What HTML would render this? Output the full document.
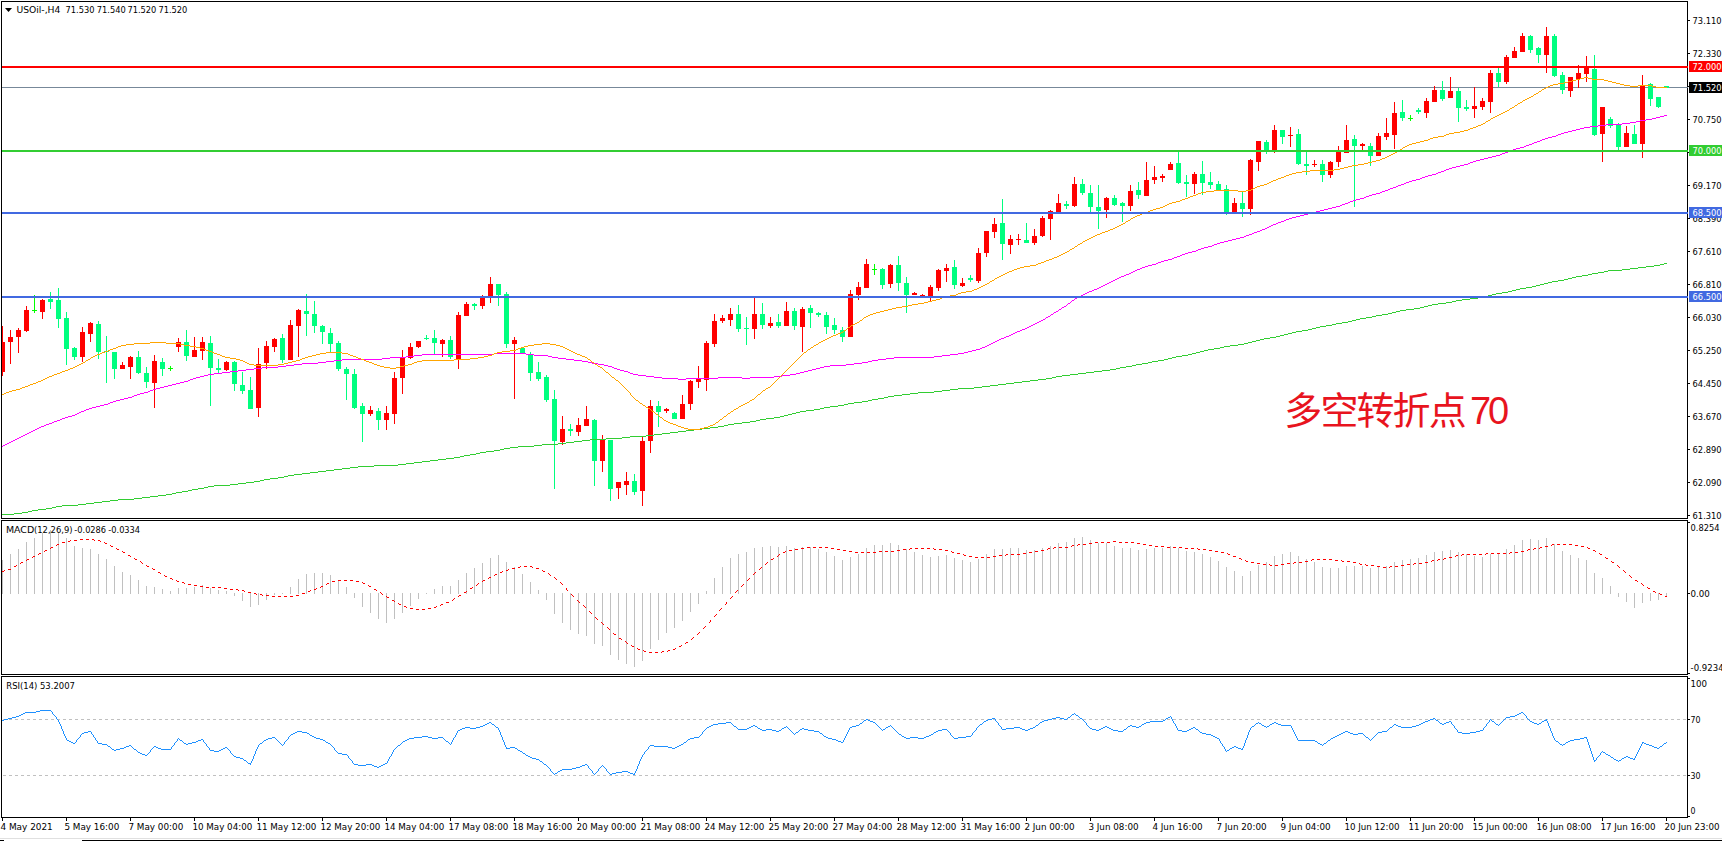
<!DOCTYPE html><html><head><meta charset="utf-8"><title>USOil H4</title>
<style>html,body{margin:0;padding:0;background:#fff;}body{width:1722px;height:841px;overflow:hidden;}svg{display:block;}</style></head><body>
<svg width="1722" height="841" viewBox="0 0 1722 841">
<rect x="0" y="0" width="1722" height="841" fill="#fff"/>
<defs><clipPath id="cm"><rect x="2" y="2" width="1685" height="516"/></clipPath><clipPath id="cd"><rect x="2" y="521" width="1685" height="153"/></clipPath><clipPath id="cr"><rect x="2" y="677" width="1685" height="140"/></clipPath></defs>
<g clip-path="url(#cm)" shape-rendering="crispEdges">
<rect x="2" y="87" width="1686" height="1" fill="#778899"/>
<rect x="2" y="326" width="1" height="50" fill="#FF0000"/>
<rect x="0" y="342" width="5" height="30" fill="#FF0000"/>
<rect x="10" y="330" width="1" height="34" fill="#FF0000"/>
<rect x="8" y="337" width="5" height="5" fill="#FF0000"/>
<rect x="18" y="328" width="1" height="25" fill="#FF0000"/>
<rect x="16" y="330" width="5" height="7" fill="#FF0000"/>
<rect x="26" y="306" width="1" height="26" fill="#FF0000"/>
<rect x="24" y="310" width="5" height="21" fill="#FF0000"/>
<rect x="34" y="295" width="1" height="18" fill="#00FF00"/>
<rect x="32" y="310" width="5" height="1" fill="#00FF00"/>
<rect x="42" y="299" width="1" height="20" fill="#FF0000"/>
<rect x="40" y="300" width="5" height="12" fill="#FF0000"/>
<rect x="50" y="292" width="1" height="17" fill="#00FF7F"/>
<rect x="48" y="299" width="5" height="3" fill="#00FF7F"/>
<rect x="58" y="288" width="1" height="40" fill="#00FF7F"/>
<rect x="56" y="300" width="5" height="19" fill="#00FF7F"/>
<rect x="66" y="312" width="1" height="53" fill="#00FF7F"/>
<rect x="64" y="318" width="5" height="31" fill="#00FF7F"/>
<rect x="74" y="347" width="1" height="13" fill="#00FF7F"/>
<rect x="72" y="348" width="5" height="9" fill="#00FF7F"/>
<rect x="82" y="327" width="1" height="35" fill="#FF0000"/>
<rect x="80" y="332" width="5" height="25" fill="#FF0000"/>
<rect x="90" y="322" width="1" height="20" fill="#FF0000"/>
<rect x="88" y="323" width="5" height="11" fill="#FF0000"/>
<rect x="98" y="321" width="1" height="38" fill="#00FF7F"/>
<rect x="96" y="324" width="5" height="28" fill="#00FF7F"/>
<rect x="106" y="336" width="1" height="47" fill="#00FF7F"/>
<rect x="104" y="351" width="5" height="1" fill="#00FF7F"/>
<rect x="114" y="352" width="1" height="27" fill="#00FF7F"/>
<rect x="112" y="352" width="5" height="17" fill="#00FF7F"/>
<rect x="122" y="362" width="1" height="7" fill="#FF0000"/>
<rect x="120" y="365" width="5" height="4" fill="#FF0000"/>
<rect x="130" y="356" width="1" height="23" fill="#FF0000"/>
<rect x="128" y="357" width="5" height="10" fill="#FF0000"/>
<rect x="138" y="351" width="1" height="23" fill="#00FF7F"/>
<rect x="136" y="357" width="5" height="16" fill="#00FF7F"/>
<rect x="146" y="367" width="1" height="21" fill="#00FF7F"/>
<rect x="144" y="373" width="5" height="9" fill="#00FF7F"/>
<rect x="154" y="355" width="1" height="53" fill="#FF0000"/>
<rect x="152" y="361" width="5" height="22" fill="#FF0000"/>
<rect x="162" y="358" width="1" height="18" fill="#00FF7F"/>
<rect x="160" y="362" width="5" height="7" fill="#00FF7F"/>
<rect x="170" y="366" width="1" height="5" fill="#00FF00"/>
<rect x="168" y="368" width="5" height="1" fill="#00FF00"/>
<rect x="178" y="338" width="1" height="14" fill="#FF0000"/>
<rect x="176" y="342" width="5" height="5" fill="#FF0000"/>
<rect x="186" y="330" width="1" height="31" fill="#00FF7F"/>
<rect x="184" y="342" width="5" height="14" fill="#00FF7F"/>
<rect x="194" y="337" width="1" height="20" fill="#FF0000"/>
<rect x="192" y="350" width="5" height="7" fill="#FF0000"/>
<rect x="202" y="337" width="1" height="23" fill="#FF0000"/>
<rect x="200" y="342" width="5" height="9" fill="#FF0000"/>
<rect x="210" y="336" width="1" height="70" fill="#00FF7F"/>
<rect x="208" y="343" width="5" height="25" fill="#00FF7F"/>
<rect x="218" y="359" width="1" height="14" fill="#00FF7F"/>
<rect x="216" y="368" width="5" height="2" fill="#00FF7F"/>
<rect x="226" y="361" width="1" height="10" fill="#FF0000"/>
<rect x="224" y="362" width="5" height="8" fill="#FF0000"/>
<rect x="234" y="361" width="1" height="30" fill="#00FF7F"/>
<rect x="232" y="362" width="5" height="22" fill="#00FF7F"/>
<rect x="242" y="372" width="1" height="22" fill="#00FF7F"/>
<rect x="240" y="385" width="5" height="6" fill="#00FF7F"/>
<rect x="250" y="377" width="1" height="32" fill="#00FF7F"/>
<rect x="248" y="390" width="5" height="19" fill="#00FF7F"/>
<rect x="258" y="348" width="1" height="69" fill="#FF0000"/>
<rect x="256" y="364" width="5" height="44" fill="#FF0000"/>
<rect x="266" y="341" width="1" height="28" fill="#FF0000"/>
<rect x="264" y="346" width="5" height="17" fill="#FF0000"/>
<rect x="274" y="338" width="1" height="14" fill="#FF0000"/>
<rect x="272" y="339" width="5" height="8" fill="#FF0000"/>
<rect x="282" y="334" width="1" height="29" fill="#00FF7F"/>
<rect x="280" y="338" width="5" height="22" fill="#00FF7F"/>
<rect x="290" y="320" width="1" height="40" fill="#FF0000"/>
<rect x="288" y="325" width="5" height="35" fill="#FF0000"/>
<rect x="298" y="309" width="1" height="48" fill="#FF0000"/>
<rect x="296" y="310" width="5" height="16" fill="#FF0000"/>
<rect x="306" y="294" width="1" height="42" fill="#00FF7F"/>
<rect x="304" y="311" width="5" height="3" fill="#00FF7F"/>
<rect x="314" y="301" width="1" height="32" fill="#00FF7F"/>
<rect x="312" y="314" width="5" height="12" fill="#00FF7F"/>
<rect x="322" y="325" width="1" height="19" fill="#00FF7F"/>
<rect x="320" y="326" width="5" height="6" fill="#00FF7F"/>
<rect x="330" y="328" width="1" height="24" fill="#00FF7F"/>
<rect x="328" y="333" width="5" height="11" fill="#00FF7F"/>
<rect x="338" y="341" width="1" height="30" fill="#00FF7F"/>
<rect x="336" y="343" width="5" height="26" fill="#00FF7F"/>
<rect x="346" y="367" width="1" height="33" fill="#00FF7F"/>
<rect x="344" y="369" width="5" height="5" fill="#00FF7F"/>
<rect x="354" y="369" width="1" height="40" fill="#00FF7F"/>
<rect x="352" y="374" width="5" height="34" fill="#00FF7F"/>
<rect x="362" y="403" width="1" height="39" fill="#00FF7F"/>
<rect x="360" y="406" width="5" height="8" fill="#00FF7F"/>
<rect x="370" y="406" width="1" height="10" fill="#FF0000"/>
<rect x="368" y="410" width="5" height="4" fill="#FF0000"/>
<rect x="378" y="408" width="1" height="22" fill="#00FF7F"/>
<rect x="376" y="411" width="5" height="9" fill="#00FF7F"/>
<rect x="386" y="406" width="1" height="24" fill="#FF0000"/>
<rect x="384" y="413" width="5" height="7" fill="#FF0000"/>
<rect x="394" y="372" width="1" height="52" fill="#FF0000"/>
<rect x="392" y="378" width="5" height="36" fill="#FF0000"/>
<rect x="402" y="350" width="1" height="44" fill="#FF0000"/>
<rect x="400" y="358" width="5" height="20" fill="#FF0000"/>
<rect x="410" y="343" width="1" height="16" fill="#FF0000"/>
<rect x="408" y="347" width="5" height="11" fill="#FF0000"/>
<rect x="418" y="341" width="1" height="7" fill="#FF0000"/>
<rect x="416" y="341" width="5" height="6" fill="#FF0000"/>
<rect x="426" y="335" width="1" height="5" fill="#00FF7F"/>
<rect x="424" y="338" width="5" height="1" fill="#00FF7F"/>
<rect x="434" y="330" width="1" height="24" fill="#00FF7F"/>
<rect x="432" y="338" width="5" height="5" fill="#00FF7F"/>
<rect x="442" y="339" width="1" height="18" fill="#FF0000"/>
<rect x="440" y="340" width="5" height="4" fill="#FF0000"/>
<rect x="450" y="336" width="1" height="23" fill="#00FF7F"/>
<rect x="448" y="340" width="5" height="17" fill="#00FF7F"/>
<rect x="458" y="312" width="1" height="57" fill="#FF0000"/>
<rect x="456" y="315" width="5" height="44" fill="#FF0000"/>
<rect x="466" y="302" width="1" height="14" fill="#FF0000"/>
<rect x="464" y="304" width="5" height="12" fill="#FF0000"/>
<rect x="474" y="303" width="1" height="7" fill="#00FF7F"/>
<rect x="472" y="304" width="5" height="2" fill="#00FF7F"/>
<rect x="482" y="295" width="1" height="14" fill="#FF0000"/>
<rect x="480" y="298" width="5" height="8" fill="#FF0000"/>
<rect x="490" y="277" width="1" height="26" fill="#FF0000"/>
<rect x="488" y="284" width="5" height="12" fill="#FF0000"/>
<rect x="498" y="284" width="1" height="22" fill="#00FF7F"/>
<rect x="496" y="284" width="5" height="11" fill="#00FF7F"/>
<rect x="506" y="292" width="1" height="56" fill="#00FF7F"/>
<rect x="504" y="294" width="5" height="50" fill="#00FF7F"/>
<rect x="514" y="337" width="1" height="62" fill="#FF0000"/>
<rect x="512" y="340" width="5" height="4" fill="#FF0000"/>
<rect x="522" y="348" width="1" height="6" fill="#00FF7F"/>
<rect x="520" y="348" width="5" height="6" fill="#00FF7F"/>
<rect x="530" y="352" width="1" height="29" fill="#00FF7F"/>
<rect x="528" y="354" width="5" height="19" fill="#00FF7F"/>
<rect x="538" y="362" width="1" height="19" fill="#00FF7F"/>
<rect x="536" y="372" width="5" height="7" fill="#00FF7F"/>
<rect x="546" y="375" width="1" height="27" fill="#00FF7F"/>
<rect x="544" y="377" width="5" height="23" fill="#00FF7F"/>
<rect x="554" y="390" width="1" height="99" fill="#00FF7F"/>
<rect x="552" y="399" width="5" height="42" fill="#00FF7F"/>
<rect x="562" y="416" width="1" height="29" fill="#FF0000"/>
<rect x="560" y="429" width="5" height="13" fill="#FF0000"/>
<rect x="570" y="424" width="1" height="12" fill="#00FF7F"/>
<rect x="568" y="429" width="5" height="2" fill="#00FF7F"/>
<rect x="578" y="418" width="1" height="18" fill="#FF0000"/>
<rect x="576" y="425" width="5" height="7" fill="#FF0000"/>
<rect x="586" y="406" width="1" height="20" fill="#FF0000"/>
<rect x="584" y="419" width="5" height="7" fill="#FF0000"/>
<rect x="594" y="419" width="1" height="67" fill="#00FF7F"/>
<rect x="592" y="420" width="5" height="41" fill="#00FF7F"/>
<rect x="602" y="435" width="1" height="37" fill="#FF0000"/>
<rect x="600" y="440" width="5" height="21" fill="#FF0000"/>
<rect x="610" y="440" width="1" height="61" fill="#00FF7F"/>
<rect x="608" y="440" width="5" height="49" fill="#00FF7F"/>
<rect x="618" y="482" width="1" height="17" fill="#FF0000"/>
<rect x="616" y="482" width="5" height="6" fill="#FF0000"/>
<rect x="626" y="472" width="1" height="23" fill="#FF0000"/>
<rect x="624" y="481" width="5" height="4" fill="#FF0000"/>
<rect x="634" y="474" width="1" height="21" fill="#00FF7F"/>
<rect x="632" y="481" width="5" height="11" fill="#00FF7F"/>
<rect x="642" y="437" width="1" height="69" fill="#FF0000"/>
<rect x="640" y="441" width="5" height="50" fill="#FF0000"/>
<rect x="650" y="400" width="1" height="53" fill="#FF0000"/>
<rect x="648" y="406" width="5" height="35" fill="#FF0000"/>
<rect x="658" y="401" width="1" height="26" fill="#00FF7F"/>
<rect x="656" y="406" width="5" height="6" fill="#00FF7F"/>
<rect x="666" y="408" width="1" height="5" fill="#FF0000"/>
<rect x="664" y="409" width="5" height="2" fill="#FF0000"/>
<rect x="674" y="412" width="1" height="7" fill="#00FF7F"/>
<rect x="672" y="413" width="5" height="6" fill="#00FF7F"/>
<rect x="682" y="395" width="1" height="24" fill="#FF0000"/>
<rect x="680" y="404" width="5" height="15" fill="#FF0000"/>
<rect x="690" y="380" width="1" height="30" fill="#FF0000"/>
<rect x="688" y="381" width="5" height="23" fill="#FF0000"/>
<rect x="698" y="366" width="1" height="22" fill="#FF0000"/>
<rect x="696" y="379" width="5" height="3" fill="#FF0000"/>
<rect x="706" y="341" width="1" height="50" fill="#FF0000"/>
<rect x="704" y="343" width="5" height="37" fill="#FF0000"/>
<rect x="714" y="314" width="1" height="33" fill="#FF0000"/>
<rect x="712" y="321" width="5" height="23" fill="#FF0000"/>
<rect x="722" y="315" width="1" height="8" fill="#FF0000"/>
<rect x="720" y="318" width="5" height="3" fill="#FF0000"/>
<rect x="730" y="308" width="1" height="18" fill="#FF0000"/>
<rect x="728" y="314" width="5" height="6" fill="#FF0000"/>
<rect x="738" y="305" width="1" height="27" fill="#00FF7F"/>
<rect x="736" y="314" width="5" height="15" fill="#00FF7F"/>
<rect x="746" y="317" width="1" height="28" fill="#00FF7F"/>
<rect x="744" y="328" width="5" height="1" fill="#00FF7F"/>
<rect x="754" y="298" width="1" height="41" fill="#FF0000"/>
<rect x="752" y="314" width="5" height="15" fill="#FF0000"/>
<rect x="762" y="303" width="1" height="26" fill="#00FF7F"/>
<rect x="760" y="314" width="5" height="11" fill="#00FF7F"/>
<rect x="770" y="317" width="1" height="11" fill="#FF0000"/>
<rect x="768" y="323" width="5" height="3" fill="#FF0000"/>
<rect x="778" y="314" width="1" height="14" fill="#00FF7F"/>
<rect x="776" y="322" width="5" height="4" fill="#00FF7F"/>
<rect x="786" y="302" width="1" height="24" fill="#FF0000"/>
<rect x="784" y="311" width="5" height="15" fill="#FF0000"/>
<rect x="794" y="308" width="1" height="22" fill="#00FF7F"/>
<rect x="792" y="311" width="5" height="15" fill="#00FF7F"/>
<rect x="802" y="307" width="1" height="45" fill="#FF0000"/>
<rect x="800" y="309" width="5" height="18" fill="#FF0000"/>
<rect x="810" y="305" width="1" height="23" fill="#00FF7F"/>
<rect x="808" y="308" width="5" height="5" fill="#00FF7F"/>
<rect x="818" y="312" width="1" height="5" fill="#00FF7F"/>
<rect x="816" y="313" width="5" height="2" fill="#00FF7F"/>
<rect x="826" y="312" width="1" height="22" fill="#00FF7F"/>
<rect x="824" y="315" width="5" height="12" fill="#00FF7F"/>
<rect x="834" y="318" width="1" height="16" fill="#00FF7F"/>
<rect x="832" y="325" width="5" height="5" fill="#00FF7F"/>
<rect x="842" y="327" width="1" height="15" fill="#00FF7F"/>
<rect x="840" y="330" width="5" height="7" fill="#00FF7F"/>
<rect x="850" y="290" width="1" height="47" fill="#FF0000"/>
<rect x="848" y="294" width="5" height="43" fill="#FF0000"/>
<rect x="858" y="282" width="1" height="18" fill="#FF0000"/>
<rect x="856" y="287" width="5" height="8" fill="#FF0000"/>
<rect x="866" y="259" width="1" height="29" fill="#FF0000"/>
<rect x="864" y="264" width="5" height="24" fill="#FF0000"/>
<rect x="874" y="264" width="1" height="11" fill="#00FF00"/>
<rect x="872" y="269" width="5" height="1" fill="#00FF00"/>
<rect x="882" y="268" width="1" height="21" fill="#00FF7F"/>
<rect x="880" y="269" width="5" height="16" fill="#00FF7F"/>
<rect x="890" y="264" width="1" height="24" fill="#FF0000"/>
<rect x="888" y="265" width="5" height="19" fill="#FF0000"/>
<rect x="898" y="256" width="1" height="35" fill="#00FF7F"/>
<rect x="896" y="265" width="5" height="18" fill="#00FF7F"/>
<rect x="906" y="277" width="1" height="36" fill="#00FF7F"/>
<rect x="904" y="283" width="5" height="12" fill="#00FF7F"/>
<rect x="914" y="292" width="1" height="3" fill="#FF0000"/>
<rect x="912" y="293" width="5" height="2" fill="#FF0000"/>
<rect x="922" y="294" width="1" height="2" fill="#FF0000"/>
<rect x="920" y="295" width="5" height="1" fill="#FF0000"/>
<rect x="930" y="285" width="1" height="17" fill="#FF0000"/>
<rect x="928" y="287" width="5" height="9" fill="#FF0000"/>
<rect x="938" y="269" width="1" height="22" fill="#FF0000"/>
<rect x="936" y="270" width="5" height="18" fill="#FF0000"/>
<rect x="946" y="264" width="1" height="18" fill="#FF0000"/>
<rect x="944" y="268" width="5" height="3" fill="#FF0000"/>
<rect x="954" y="260" width="1" height="29" fill="#00FF7F"/>
<rect x="952" y="267" width="5" height="18" fill="#00FF7F"/>
<rect x="962" y="278" width="1" height="9" fill="#FF0000"/>
<rect x="960" y="283" width="5" height="3" fill="#FF0000"/>
<rect x="970" y="275" width="1" height="7" fill="#00FF7F"/>
<rect x="968" y="278" width="5" height="2" fill="#00FF7F"/>
<rect x="978" y="248" width="1" height="35" fill="#FF0000"/>
<rect x="976" y="253" width="5" height="28" fill="#FF0000"/>
<rect x="986" y="231" width="1" height="26" fill="#FF0000"/>
<rect x="984" y="231" width="5" height="22" fill="#FF0000"/>
<rect x="994" y="218" width="1" height="20" fill="#FF0000"/>
<rect x="992" y="224" width="5" height="8" fill="#FF0000"/>
<rect x="1002" y="199" width="1" height="61" fill="#00FF7F"/>
<rect x="1000" y="223" width="5" height="21" fill="#00FF7F"/>
<rect x="1010" y="235" width="1" height="19" fill="#FF0000"/>
<rect x="1008" y="239" width="5" height="6" fill="#FF0000"/>
<rect x="1018" y="234" width="1" height="11" fill="#FF0000"/>
<rect x="1016" y="239" width="5" height="1" fill="#FF0000"/>
<rect x="1026" y="223" width="1" height="20" fill="#00FF7F"/>
<rect x="1024" y="240" width="5" height="3" fill="#00FF7F"/>
<rect x="1034" y="229" width="1" height="16" fill="#FF0000"/>
<rect x="1032" y="236" width="5" height="7" fill="#FF0000"/>
<rect x="1042" y="216" width="1" height="21" fill="#FF0000"/>
<rect x="1040" y="218" width="5" height="18" fill="#FF0000"/>
<rect x="1050" y="210" width="1" height="30" fill="#FF0000"/>
<rect x="1048" y="211" width="5" height="8" fill="#FF0000"/>
<rect x="1058" y="194" width="1" height="18" fill="#FF0000"/>
<rect x="1056" y="203" width="5" height="9" fill="#FF0000"/>
<rect x="1066" y="201" width="1" height="8" fill="#00FF7F"/>
<rect x="1064" y="204" width="5" height="2" fill="#00FF7F"/>
<rect x="1074" y="177" width="1" height="30" fill="#FF0000"/>
<rect x="1072" y="184" width="5" height="22" fill="#FF0000"/>
<rect x="1082" y="179" width="1" height="16" fill="#00FF7F"/>
<rect x="1080" y="184" width="5" height="9" fill="#00FF7F"/>
<rect x="1090" y="185" width="1" height="27" fill="#00FF7F"/>
<rect x="1088" y="193" width="5" height="14" fill="#00FF7F"/>
<rect x="1098" y="185" width="1" height="44" fill="#00FF7F"/>
<rect x="1096" y="207" width="5" height="4" fill="#00FF7F"/>
<rect x="1106" y="197" width="1" height="21" fill="#FF0000"/>
<rect x="1104" y="198" width="5" height="12" fill="#FF0000"/>
<rect x="1114" y="195" width="1" height="11" fill="#00FF7F"/>
<rect x="1112" y="198" width="5" height="7" fill="#00FF7F"/>
<rect x="1122" y="202" width="1" height="20" fill="#00FF7F"/>
<rect x="1120" y="203" width="5" height="3" fill="#00FF7F"/>
<rect x="1130" y="185" width="1" height="26" fill="#FF0000"/>
<rect x="1128" y="191" width="5" height="15" fill="#FF0000"/>
<rect x="1138" y="182" width="1" height="17" fill="#00FF7F"/>
<rect x="1136" y="190" width="5" height="5" fill="#00FF7F"/>
<rect x="1146" y="162" width="1" height="34" fill="#FF0000"/>
<rect x="1144" y="180" width="5" height="16" fill="#FF0000"/>
<rect x="1154" y="166" width="1" height="18" fill="#FF0000"/>
<rect x="1152" y="177" width="5" height="3" fill="#FF0000"/>
<rect x="1162" y="174" width="1" height="8" fill="#FF0000"/>
<rect x="1160" y="176" width="5" height="2" fill="#FF0000"/>
<rect x="1170" y="162" width="1" height="8" fill="#FF0000"/>
<rect x="1168" y="164" width="5" height="6" fill="#FF0000"/>
<rect x="1178" y="151" width="1" height="33" fill="#00FF7F"/>
<rect x="1176" y="163" width="5" height="20" fill="#00FF7F"/>
<rect x="1186" y="175" width="1" height="22" fill="#00FF7F"/>
<rect x="1184" y="182" width="5" height="2" fill="#00FF7F"/>
<rect x="1194" y="172" width="1" height="22" fill="#FF0000"/>
<rect x="1192" y="174" width="5" height="10" fill="#FF0000"/>
<rect x="1202" y="161" width="1" height="34" fill="#00FF7F"/>
<rect x="1200" y="174" width="5" height="9" fill="#00FF7F"/>
<rect x="1210" y="172" width="1" height="17" fill="#00FF7F"/>
<rect x="1208" y="182" width="5" height="3" fill="#00FF7F"/>
<rect x="1218" y="181" width="1" height="9" fill="#00FF7F"/>
<rect x="1216" y="184" width="5" height="6" fill="#00FF7F"/>
<rect x="1226" y="185" width="1" height="30" fill="#00FF7F"/>
<rect x="1224" y="189" width="5" height="23" fill="#00FF7F"/>
<rect x="1234" y="198" width="1" height="14" fill="#FF0000"/>
<rect x="1232" y="203" width="5" height="9" fill="#FF0000"/>
<rect x="1242" y="191" width="1" height="26" fill="#00FF7F"/>
<rect x="1240" y="203" width="5" height="6" fill="#00FF7F"/>
<rect x="1250" y="159" width="1" height="56" fill="#FF0000"/>
<rect x="1248" y="160" width="5" height="49" fill="#FF0000"/>
<rect x="1258" y="141" width="1" height="30" fill="#FF0000"/>
<rect x="1256" y="141" width="5" height="21" fill="#FF0000"/>
<rect x="1266" y="140" width="1" height="14" fill="#00FF7F"/>
<rect x="1264" y="142" width="5" height="8" fill="#00FF7F"/>
<rect x="1274" y="125" width="1" height="28" fill="#FF0000"/>
<rect x="1272" y="130" width="5" height="20" fill="#FF0000"/>
<rect x="1282" y="130" width="1" height="14" fill="#00FF7F"/>
<rect x="1280" y="130" width="5" height="7" fill="#00FF7F"/>
<rect x="1290" y="127" width="1" height="20" fill="#FF0000"/>
<rect x="1288" y="135" width="5" height="1" fill="#FF0000"/>
<rect x="1298" y="129" width="1" height="36" fill="#00FF7F"/>
<rect x="1296" y="134" width="5" height="30" fill="#00FF7F"/>
<rect x="1306" y="151" width="1" height="24" fill="#00FF7F"/>
<rect x="1304" y="164" width="5" height="2" fill="#00FF7F"/>
<rect x="1314" y="160" width="1" height="7" fill="#FF0000"/>
<rect x="1312" y="164" width="5" height="1" fill="#FF0000"/>
<rect x="1322" y="160" width="1" height="22" fill="#00FF7F"/>
<rect x="1320" y="164" width="5" height="11" fill="#00FF7F"/>
<rect x="1330" y="161" width="1" height="17" fill="#FF0000"/>
<rect x="1328" y="162" width="5" height="13" fill="#FF0000"/>
<rect x="1338" y="146" width="1" height="21" fill="#FF0000"/>
<rect x="1336" y="152" width="5" height="10" fill="#FF0000"/>
<rect x="1346" y="125" width="1" height="28" fill="#FF0000"/>
<rect x="1344" y="140" width="5" height="13" fill="#FF0000"/>
<rect x="1354" y="135" width="1" height="72" fill="#00FF7F"/>
<rect x="1352" y="139" width="5" height="7" fill="#00FF7F"/>
<rect x="1362" y="143" width="1" height="7" fill="#FF0000"/>
<rect x="1360" y="144" width="5" height="2" fill="#FF0000"/>
<rect x="1370" y="143" width="1" height="23" fill="#00FF7F"/>
<rect x="1368" y="146" width="5" height="10" fill="#00FF7F"/>
<rect x="1378" y="133" width="1" height="23" fill="#FF0000"/>
<rect x="1376" y="136" width="5" height="20" fill="#FF0000"/>
<rect x="1386" y="118" width="1" height="22" fill="#FF0000"/>
<rect x="1384" y="133" width="5" height="4" fill="#FF0000"/>
<rect x="1394" y="102" width="1" height="47" fill="#FF0000"/>
<rect x="1392" y="113" width="5" height="22" fill="#FF0000"/>
<rect x="1402" y="100" width="1" height="21" fill="#00FF7F"/>
<rect x="1400" y="112" width="5" height="6" fill="#00FF7F"/>
<rect x="1410" y="115" width="1" height="6" fill="#00FF00"/>
<rect x="1408" y="118" width="5" height="1" fill="#00FF00"/>
<rect x="1418" y="108" width="1" height="6" fill="#00FF7F"/>
<rect x="1416" y="110" width="5" height="2" fill="#00FF7F"/>
<rect x="1426" y="98" width="1" height="20" fill="#FF0000"/>
<rect x="1424" y="101" width="5" height="12" fill="#FF0000"/>
<rect x="1434" y="86" width="1" height="16" fill="#FF0000"/>
<rect x="1432" y="90" width="5" height="12" fill="#FF0000"/>
<rect x="1442" y="81" width="1" height="20" fill="#00FF7F"/>
<rect x="1440" y="90" width="5" height="9" fill="#00FF7F"/>
<rect x="1450" y="77" width="1" height="21" fill="#FF0000"/>
<rect x="1448" y="91" width="5" height="7" fill="#FF0000"/>
<rect x="1458" y="88" width="1" height="34" fill="#00FF7F"/>
<rect x="1456" y="91" width="5" height="17" fill="#00FF7F"/>
<rect x="1466" y="100" width="1" height="11" fill="#00FF7F"/>
<rect x="1464" y="107" width="5" height="2" fill="#00FF7F"/>
<rect x="1474" y="87" width="1" height="31" fill="#FF0000"/>
<rect x="1472" y="106" width="5" height="3" fill="#FF0000"/>
<rect x="1482" y="98" width="1" height="12" fill="#FF0000"/>
<rect x="1480" y="101" width="5" height="6" fill="#FF0000"/>
<rect x="1490" y="70" width="1" height="43" fill="#FF0000"/>
<rect x="1488" y="73" width="5" height="29" fill="#FF0000"/>
<rect x="1498" y="68" width="1" height="19" fill="#00FF7F"/>
<rect x="1496" y="73" width="5" height="9" fill="#00FF7F"/>
<rect x="1506" y="55" width="1" height="29" fill="#FF0000"/>
<rect x="1504" y="57" width="5" height="25" fill="#FF0000"/>
<rect x="1514" y="47" width="1" height="11" fill="#FF0000"/>
<rect x="1512" y="51" width="5" height="7" fill="#FF0000"/>
<rect x="1522" y="33" width="1" height="19" fill="#FF0000"/>
<rect x="1520" y="36" width="5" height="16" fill="#FF0000"/>
<rect x="1530" y="35" width="1" height="18" fill="#00FF7F"/>
<rect x="1528" y="36" width="5" height="14" fill="#00FF7F"/>
<rect x="1538" y="47" width="1" height="16" fill="#00FF7F"/>
<rect x="1536" y="48" width="5" height="7" fill="#00FF7F"/>
<rect x="1546" y="27" width="1" height="46" fill="#FF0000"/>
<rect x="1544" y="36" width="5" height="19" fill="#FF0000"/>
<rect x="1554" y="34" width="1" height="43" fill="#00FF7F"/>
<rect x="1552" y="36" width="5" height="40" fill="#00FF7F"/>
<rect x="1562" y="72" width="1" height="22" fill="#00FF7F"/>
<rect x="1560" y="75" width="5" height="15" fill="#00FF7F"/>
<rect x="1570" y="77" width="1" height="20" fill="#FF0000"/>
<rect x="1568" y="77" width="5" height="14" fill="#FF0000"/>
<rect x="1578" y="65" width="1" height="23" fill="#FF0000"/>
<rect x="1576" y="73" width="5" height="6" fill="#FF0000"/>
<rect x="1586" y="56" width="1" height="26" fill="#FF0000"/>
<rect x="1584" y="67" width="5" height="7" fill="#FF0000"/>
<rect x="1594" y="55" width="1" height="81" fill="#00FF7F"/>
<rect x="1592" y="69" width="5" height="66" fill="#00FF7F"/>
<rect x="1602" y="107" width="1" height="55" fill="#FF0000"/>
<rect x="1600" y="107" width="5" height="27" fill="#FF0000"/>
<rect x="1610" y="117" width="1" height="11" fill="#00FF7F"/>
<rect x="1608" y="119" width="5" height="7" fill="#00FF7F"/>
<rect x="1618" y="123" width="1" height="27" fill="#00FF7F"/>
<rect x="1616" y="124" width="5" height="23" fill="#00FF7F"/>
<rect x="1626" y="126" width="1" height="21" fill="#FF0000"/>
<rect x="1624" y="133" width="5" height="14" fill="#FF0000"/>
<rect x="1634" y="125" width="1" height="19" fill="#00FF7F"/>
<rect x="1632" y="134" width="5" height="10" fill="#00FF7F"/>
<rect x="1642" y="75" width="1" height="83" fill="#FF0000"/>
<rect x="1640" y="86" width="5" height="58" fill="#FF0000"/>
<rect x="1650" y="83" width="1" height="23" fill="#00FF7F"/>
<rect x="1648" y="84" width="5" height="15" fill="#00FF7F"/>
<rect x="1658" y="97" width="1" height="11" fill="#00FF7F"/>
<rect x="1656" y="97" width="5" height="10" fill="#00FF7F"/>
<rect x="1666" y="86" width="1" height="2" fill="#00FF7F"/>
<rect x="1664" y="86" width="5" height="2" fill="#00FF7F"/>
</g>
<g clip-path="url(#cm)" shape-rendering="crispEdges">
<path d="M1664 263h3v1h-3zM1660 264h4v1h-4zM1654 265h6v1h-6zM1646 266h8v1h-8zM1638 267h8v1h-8zM1630 268h8v1h-8zM1622 269h8v1h-8zM1608 270h14v1h-14zM1604 271h4v1h-4zM1598 272h6v1h-6zM1592 273h6v1h-6zM1588 274h4v1h-4zM1582 275h6v1h-6zM1576 276h6v1h-6zM1572 277h4v1h-4zM1568 278h4v1h-4zM1564 279h4v1h-4zM1558 280h6v1h-6zM1552 281h6v1h-6zM1548 282h4v1h-4zM1544 283h4v1h-4zM1540 284h4v1h-4zM1536 285h4v1h-4zM1532 286h4v1h-4zM1526 287h6v1h-6zM1520 288h6v1h-6zM1516 289h4v1h-4zM1512 290h4v1h-4zM1508 291h4v1h-4zM1502 292h6v1h-6zM1496 293h6v1h-6zM1492 294h4v1h-4zM1488 295h4v1h-4zM1484 296h4v1h-4zM1478 297h6v1h-6zM1470 298h8v1h-8zM1462 299h8v1h-8zM1456 300h6v1h-6zM1452 301h4v1h-4zM1446 302h6v1h-6zM1438 303h8v1h-8zM1432 304h6v1h-6zM1428 305h4v1h-4zM1424 306h4v1h-4zM1420 307h4v1h-4zM1414 308h6v1h-6zM1406 309h8v1h-8zM1400 310h6v1h-6zM1396 311h4v1h-4zM1392 312h4v1h-4zM1388 313h4v1h-4zM1382 314h6v1h-6zM1376 315h6v1h-6zM1372 316h4v1h-4zM1366 317h6v1h-6zM1360 318h6v1h-6zM1356 319h4v1h-4zM1352 320h4v1h-4zM1348 321h4v1h-4zM1342 322h6v1h-6zM1336 323h6v1h-6zM1332 324h4v1h-4zM1326 325h6v1h-6zM1320 326h6v1h-6zM1316 327h4v1h-4zM1312 328h4v1h-4zM1308 329h4v1h-4zM1302 330h6v1h-6zM1296 331h6v1h-6zM1292 332h4v1h-4zM1288 333h4v1h-4zM1284 334h4v1h-4zM1280 335h4v1h-4zM1276 336h4v1h-4zM1270 337h6v1h-6zM1264 338h6v1h-6zM1260 339h4v1h-4zM1256 340h4v1h-4zM1252 341h4v1h-4zM1248 342h4v1h-4zM1244 343h4v1h-4zM1238 344h6v1h-6zM1230 345h8v1h-8zM1224 346h6v1h-6zM1220 347h4v1h-4zM1214 348h6v1h-6zM1208 349h6v1h-6zM1204 350h4v1h-4zM1200 351h4v1h-4zM1196 352h4v1h-4zM1192 353h4v1h-4zM1188 354h4v1h-4zM1182 355h6v1h-6zM1176 356h6v1h-6zM1172 357h4v1h-4zM1168 358h4v1h-4zM1164 359h4v1h-4zM1158 360h6v1h-6zM1152 361h6v1h-6zM1148 362h4v1h-4zM1142 363h6v1h-6zM1136 364h6v1h-6zM1132 365h4v1h-4zM1126 366h6v1h-6zM1120 367h6v1h-6zM1116 368h4v1h-4zM1110 369h6v1h-6zM1102 370h8v1h-8zM1094 371h8v1h-8zM1086 372h8v1h-8zM1078 373h8v1h-8zM1070 374h8v1h-8zM1062 375h8v1h-8zM1056 376h6v1h-6zM1052 377h4v1h-4zM1046 378h6v1h-6zM1038 379h8v1h-8zM1030 380h8v1h-8zM1022 381h8v1h-8zM1014 382h8v1h-8zM1006 383h8v1h-8zM998 384h8v1h-8zM990 385h8v1h-8zM982 386h8v1h-8zM974 387h8v1h-8zM958 388h16v1h-16zM950 389h8v1h-8zM942 390h8v1h-8zM934 391h8v1h-8zM918 392h16v1h-16zM910 393h8v1h-8zM902 394h8v1h-8zM894 395h8v1h-8zM888 396h6v1h-6zM884 397h4v1h-4zM878 398h6v1h-6zM872 399h6v1h-6zM868 400h4v1h-4zM862 401h6v1h-6zM854 402h8v1h-8zM848 403h6v1h-6zM844 404h4v1h-4zM838 405h6v1h-6zM830 406h8v1h-8zM824 407h6v1h-6zM820 408h4v1h-4zM814 409h6v1h-6zM806 410h8v1h-8zM800 411h6v1h-6zM796 412h4v1h-4zM792 413h4v1h-4zM788 414h4v1h-4zM784 415h4v1h-4zM780 416h4v1h-4zM774 417h6v1h-6zM766 418h8v1h-8zM760 419h6v1h-6zM756 420h4v1h-4zM750 421h6v1h-6zM742 422h8v1h-8zM734 423h8v1h-8zM728 424h6v1h-6zM724 425h4v1h-4zM718 426h6v1h-6zM710 427h8v1h-8zM702 428h8v1h-8zM694 429h8v1h-8zM686 430h8v1h-8zM678 431h8v1h-8zM670 432h8v1h-8zM662 433h8v1h-8zM654 434h8v1h-8zM646 435h8v1h-8zM630 436h16v1h-16zM622 437h8v1h-8zM606 438h16v1h-16zM590 439h16v1h-16zM582 440h8v1h-8zM574 441h8v1h-8zM566 442h8v1h-8zM558 443h8v1h-8zM542 444h16v1h-16zM534 445h8v1h-8zM518 446h16v1h-16zM510 447h8v1h-8zM504 448h6v1h-6zM500 449h4v1h-4zM494 450h6v1h-6zM486 451h8v1h-8zM480 452h6v1h-6zM476 453h4v1h-4zM470 454h6v1h-6zM464 455h6v1h-6zM460 456h4v1h-4zM454 457h6v1h-6zM446 458h8v1h-8zM438 459h8v1h-8zM430 460h8v1h-8zM422 461h8v1h-8zM414 462h8v1h-8zM406 463h8v1h-8zM398 464h8v1h-8zM374 465h24v1h-24zM358 466h16v1h-16zM350 467h8v1h-8zM342 468h8v1h-8zM334 469h8v1h-8zM326 470h8v1h-8zM318 471h8v1h-8zM310 472h8v1h-8zM302 473h8v1h-8zM294 474h8v1h-8zM288 475h6v1h-6zM284 476h4v1h-4zM278 477h6v1h-6zM270 478h8v1h-8zM264 479h6v1h-6zM260 480h4v1h-4zM254 481h6v1h-6zM246 482h8v1h-8zM238 483h8v1h-8zM230 484h8v1h-8zM214 485h16v1h-16zM208 486h6v1h-6zM204 487h4v1h-4zM198 488h6v1h-6zM192 489h6v1h-6zM188 490h4v1h-4zM182 491h6v1h-6zM176 492h6v1h-6zM172 493h4v1h-4zM166 494h6v1h-6zM158 495h8v1h-8zM150 496h8v1h-8zM142 497h8v1h-8zM134 498h8v1h-8zM118 499h16v1h-16zM110 500h8v1h-8zM102 501h8v1h-8zM94 502h8v1h-8zM86 503h8v1h-8zM78 504h8v1h-8zM62 505h16v1h-16zM56 506h6v1h-6zM52 507h4v1h-4zM46 508h6v1h-6zM38 509h8v1h-8zM32 510h6v1h-6zM28 511h4v1h-4zM22 512h6v1h-6zM14 513h8v1h-8zM2 514h12v1h-12z" fill="#32CD32"/>
<path d="M1664 115h3v1h-3zM1660 116h4v1h-4zM1656 117h4v1h-4zM1652 118h4v1h-4zM1646 119h6v1h-6zM1640 120h6v1h-6zM1636 121h4v1h-4zM1630 122h6v1h-6zM1622 123h8v1h-8zM1606 124h16v1h-16zM1598 125h8v1h-8zM1590 126h8v1h-8zM1584 127h6v1h-6zM1580 128h4v1h-4zM1576 129h4v1h-4zM1572 130h4v1h-4zM1568 131h4v1h-4zM1564 132h4v1h-4zM1561 133h3v1h-3zM1558 134h3v1h-3zM1556 135h2v1h-2zM1552 136h4v1h-4zM1548 137h4v1h-4zM1545 138h3v1h-3zM1542 139h3v1h-3zM1540 140h2v1h-2zM1537 141h3v1h-3zM1534 142h3v1h-3zM1532 143h2v1h-2zM1529 144h3v1h-3zM1526 145h3v1h-3zM1524 146h2v1h-2zM1520 147h4v1h-4zM1516 148h4v1h-4zM1513 149h3v1h-3zM1510 150h3v1h-3zM1508 151h2v1h-2zM1505 152h3v1h-3zM1502 153h3v1h-3zM1500 154h2v1h-2zM1496 155h4v1h-4zM1492 156h4v1h-4zM1488 157h4v1h-4zM1484 158h4v1h-4zM1480 159h4v1h-4zM1476 160h4v1h-4zM1473 161h3v1h-3zM1470 162h3v1h-3zM1468 163h2v1h-2zM1464 164h4v1h-4zM1460 165h4v1h-4zM1456 166h4v1h-4zM1452 167h4v1h-4zM1449 168h3v1h-3zM1446 169h3v1h-3zM1444 170h2v1h-2zM1441 171h3v1h-3zM1438 172h3v1h-3zM1436 173h2v1h-2zM1432 174h4v1h-4zM1428 175h4v1h-4zM1425 176h3v1h-3zM1422 177h3v1h-3zM1420 178h2v1h-2zM1416 179h4v1h-4zM1412 180h4v1h-4zM1409 181h3v1h-3zM1406 182h3v1h-3zM1404 183h2v1h-2zM1401 184h3v1h-3zM1398 185h3v1h-3zM1396 186h2v1h-2zM1393 187h3v1h-3zM1390 188h3v1h-3zM1388 189h2v1h-2zM1385 190h3v1h-3zM1382 191h3v1h-3zM1380 192h2v1h-2zM1376 193h4v1h-4zM1372 194h4v1h-4zM1369 195h3v1h-3zM1366 196h3v1h-3zM1364 197h2v1h-2zM1360 198h4v1h-4zM1356 199h4v1h-4zM1353 200h3v1h-3zM1350 201h3v1h-3zM1348 202h2v1h-2zM1345 203h3v1h-3zM1342 204h3v1h-3zM1340 205h2v1h-2zM1336 206h4v1h-4zM1332 207h4v1h-4zM1328 208h4v1h-4zM1324 209h4v1h-4zM1320 210h4v1h-4zM1316 211h4v1h-4zM1312 212h4v1h-4zM1308 213h4v1h-4zM1304 214h4v1h-4zM1300 215h4v1h-4zM1296 216h4v1h-4zM1292 217h4v1h-4zM1289 218h3v1h-3zM1286 219h3v1h-3zM1284 220h2v1h-2zM1281 221h3v1h-3zM1278 222h3v1h-3zM1276 223h2v1h-2zM1273 224h3v1h-3zM1271 225h2v1h-2zM1269 226h2v1h-2zM1267 227h2v1h-2zM1265 228h2v1h-2zM1262 229h3v1h-3zM1260 230h2v1h-2zM1257 231h3v1h-3zM1254 232h3v1h-3zM1252 233h2v1h-2zM1249 234h3v1h-3zM1246 235h3v1h-3zM1244 236h2v1h-2zM1240 237h4v1h-4zM1236 238h4v1h-4zM1232 239h4v1h-4zM1228 240h4v1h-4zM1224 241h4v1h-4zM1220 242h4v1h-4zM1217 243h3v1h-3zM1214 244h3v1h-3zM1212 245h2v1h-2zM1208 246h4v1h-4zM1204 247h4v1h-4zM1201 248h3v1h-3zM1198 249h3v1h-3zM1196 250h2v1h-2zM1192 251h4v1h-4zM1188 252h4v1h-4zM1185 253h3v1h-3zM1182 254h3v1h-3zM1180 255h2v1h-2zM1177 256h3v1h-3zM1174 257h3v1h-3zM1172 258h2v1h-2zM1168 259h4v1h-4zM1164 260h4v1h-4zM1161 261h3v1h-3zM1158 262h3v1h-3zM1156 263h2v1h-2zM1152 264h4v1h-4zM1148 265h4v1h-4zM1145 266h3v1h-3zM1142 267h3v1h-3zM1140 268h2v1h-2zM1137 269h3v1h-3zM1135 270h2v1h-2zM1133 271h2v1h-2zM1131 272h2v1h-2zM1129 273h2v1h-2zM1126 274h3v1h-3zM1124 275h2v1h-2zM1121 276h3v1h-3zM1119 277h2v1h-2zM1117 278h2v1h-2zM1115 279h2v1h-2zM1113 280h2v1h-2zM1111 281h2v1h-2zM1109 282h2v1h-2zM1107 283h2v1h-2zM1105 284h2v1h-2zM1103 285h2v1h-2zM1101 286h2v1h-2zM1099 287h2v1h-2zM1097 288h2v1h-2zM1094 289h3v1h-3zM1092 290h2v1h-2zM1089 291h3v1h-3zM1087 292h2v1h-2zM1085 293h2v1h-2zM1083 294h2v1h-2zM1081 295h2v1h-2zM1079 296h2v1h-2zM1077 297h2v1h-2zM1075 298h2v1h-2zM1074 299h1v1h-1zM1072 300h2v1h-2zM1071 301h1v1h-1zM1070 302h1v1h-1zM1068 303h2v1h-2zM1067 304h1v1h-1zM1066 305h1v1h-1zM1064 306h2v1h-2zM1062 307h2v1h-2zM1061 308h1v1h-1zM1059 309h2v1h-2zM1058 310h1v1h-1zM1056 311h2v1h-2zM1054 312h2v1h-2zM1053 313h1v1h-1zM1051 314h2v1h-2zM1050 315h1v1h-1zM1048 316h2v1h-2zM1046 317h2v1h-2zM1045 318h1v1h-1zM1043 319h2v1h-2zM1041 320h2v1h-2zM1039 321h2v1h-2zM1037 322h2v1h-2zM1035 323h2v1h-2zM1033 324h2v1h-2zM1031 325h2v1h-2zM1029 326h2v1h-2zM1027 327h2v1h-2zM1025 328h2v1h-2zM1022 329h3v1h-3zM1020 330h2v1h-2zM1017 331h3v1h-3zM1015 332h2v1h-2zM1013 333h2v1h-2zM1011 334h2v1h-2zM1009 335h2v1h-2zM1006 336h3v1h-3zM1004 337h2v1h-2zM1001 338h3v1h-3zM999 339h2v1h-2zM997 340h2v1h-2zM995 341h2v1h-2zM993 342h2v1h-2zM991 343h2v1h-2zM989 344h2v1h-2zM987 345h2v1h-2zM985 346h2v1h-2zM982 347h3v1h-3zM980 348h2v1h-2zM976 349h4v1h-4zM972 350h4v1h-4zM968 351h4v1h-4zM964 352h4v1h-4zM494 353h32v1h-32zM958 353h6v1h-6zM422 354h72v1h-72zM526 354h8v1h-8zM950 354h8v1h-8zM414 355h8v1h-8zM534 355h14v1h-14zM942 355h8v1h-8zM406 356h8v1h-8zM548 356h4v1h-4zM934 356h8v1h-8zM390 357h16v1h-16zM552 357h6v1h-6zM894 357h40v1h-40zM382 358h8v1h-8zM558 358h8v1h-8zM886 358h8v1h-8zM342 359h40v1h-40zM566 359h8v1h-8zM878 359h8v1h-8zM334 360h8v1h-8zM574 360h8v1h-8zM872 360h6v1h-6zM326 361h8v1h-8zM582 361h6v1h-6zM868 361h4v1h-4zM318 362h8v1h-8zM588 362h4v1h-4zM862 362h6v1h-6zM302 363h16v1h-16zM592 363h6v1h-6zM854 363h8v1h-8zM294 364h8v1h-8zM598 364h6v1h-6zM846 364h8v1h-8zM286 365h8v1h-8zM604 365h4v1h-4zM830 365h16v1h-16zM278 366h8v1h-8zM608 366h4v1h-4zM824 366h6v1h-6zM262 367h16v1h-16zM612 367h2v1h-2zM820 367h4v1h-4zM254 368h8v1h-8zM614 368h3v1h-3zM816 368h4v1h-4zM246 369h8v1h-8zM617 369h3v1h-3zM812 369h4v1h-4zM238 370h8v1h-8zM620 370h4v1h-4zM808 370h4v1h-4zM230 371h8v1h-8zM624 371h4v1h-4zM804 371h4v1h-4zM222 372h8v1h-8zM628 372h2v1h-2zM800 372h4v1h-4zM214 373h8v1h-8zM630 373h3v1h-3zM796 373h4v1h-4zM208 374h6v1h-6zM633 374h5v1h-5zM790 374h6v1h-6zM204 375h4v1h-4zM638 375h8v1h-8zM782 375h8v1h-8zM200 376h4v1h-4zM646 376h8v1h-8zM774 376h8v1h-8zM196 377h4v1h-4zM654 377h8v1h-8zM718 377h24v1h-24zM750 377h24v1h-24zM193 378h3v1h-3zM662 378h16v1h-16zM686 378h32v1h-32zM742 378h8v1h-8zM190 379h3v1h-3zM678 379h8v1h-8zM188 380h2v1h-2zM184 381h4v1h-4zM180 382h4v1h-4zM176 383h4v1h-4zM172 384h4v1h-4zM168 385h4v1h-4zM164 386h4v1h-4zM160 387h4v1h-4zM156 388h4v1h-4zM153 389h3v1h-3zM150 390h3v1h-3zM148 391h2v1h-2zM144 392h4v1h-4zM140 393h4v1h-4zM137 394h3v1h-3zM134 395h3v1h-3zM132 396h2v1h-2zM128 397h4v1h-4zM124 398h4v1h-4zM120 399h4v1h-4zM116 400h4v1h-4zM113 401h3v1h-3zM110 402h3v1h-3zM108 403h2v1h-2zM104 404h4v1h-4zM100 405h4v1h-4zM96 406h4v1h-4zM92 407h4v1h-4zM89 408h3v1h-3zM86 409h3v1h-3zM84 410h2v1h-2zM81 411h3v1h-3zM79 412h2v1h-2zM77 413h2v1h-2zM75 414h2v1h-2zM72 415h3v1h-3zM68 416h4v1h-4zM65 417h3v1h-3zM62 418h3v1h-3zM60 419h2v1h-2zM57 420h3v1h-3zM54 421h3v1h-3zM52 422h2v1h-2zM49 423h3v1h-3zM46 424h3v1h-3zM44 425h2v1h-2zM41 426h3v1h-3zM39 427h2v1h-2zM37 428h2v1h-2zM35 429h2v1h-2zM33 430h2v1h-2zM31 431h2v1h-2zM29 432h2v1h-2zM27 433h2v1h-2zM25 434h2v1h-2zM23 435h2v1h-2zM21 436h2v1h-2zM19 437h2v1h-2zM17 438h2v1h-2zM15 439h2v1h-2zM13 440h2v1h-2zM11 441h2v1h-2zM9 442h2v1h-2zM7 443h2v1h-2zM5 444h2v1h-2zM3 445h2v1h-2zM2 446h1v1h-1z" fill="#FF00FF"/>
<path d="M1584 77h4v1h-4zM1580 78h4v1h-4zM1588 78h4v1h-4zM1576 79h4v1h-4zM1592 79h12v1h-12zM1572 80h4v1h-4zM1604 80h4v1h-4zM1568 81h4v1h-4zM1608 81h4v1h-4zM1564 82h4v1h-4zM1612 82h4v1h-4zM1558 83h6v1h-6zM1616 83h4v1h-4zM1553 84h5v1h-5zM1620 84h4v1h-4zM1550 85h3v1h-3zM1624 85h6v1h-6zM1638 85h14v1h-14zM1548 86h2v1h-2zM1630 86h8v1h-8zM1652 86h4v1h-4zM1546 87h2v1h-2zM1656 87h11v1h-11zM1544 88h2v1h-2zM1542 89h2v1h-2zM1541 90h1v1h-1zM1539 91h2v1h-2zM1538 92h1v1h-1zM1536 93h2v1h-2zM1534 94h2v1h-2zM1533 95h1v1h-1zM1531 96h2v1h-2zM1529 97h2v1h-2zM1527 98h2v1h-2zM1525 99h2v1h-2zM1523 100h2v1h-2zM1522 101h1v1h-1zM1520 102h2v1h-2zM1518 103h2v1h-2zM1517 104h1v1h-1zM1515 105h2v1h-2zM1514 106h1v1h-1zM1512 107h2v1h-2zM1510 108h2v1h-2zM1509 109h1v1h-1zM1507 110h2v1h-2zM1505 111h2v1h-2zM1503 112h2v1h-2zM1501 113h2v1h-2zM1499 114h2v1h-2zM1497 115h2v1h-2zM1495 116h2v1h-2zM1493 117h2v1h-2zM1491 118h2v1h-2zM1490 119h1v1h-1zM1488 120h2v1h-2zM1486 121h2v1h-2zM1485 122h1v1h-1zM1483 123h2v1h-2zM1481 124h2v1h-2zM1478 125h3v1h-3zM1476 126h2v1h-2zM1473 127h3v1h-3zM1470 128h3v1h-3zM1468 129h2v1h-2zM1464 130h4v1h-4zM1460 131h4v1h-4zM1454 132h6v1h-6zM1449 133h5v1h-5zM1446 134h3v1h-3zM1444 135h2v1h-2zM1438 136h6v1h-6zM1433 137h5v1h-5zM1430 138h3v1h-3zM1428 139h2v1h-2zM1424 140h4v1h-4zM1420 141h4v1h-4zM1416 142h4v1h-4zM1412 143h4v1h-4zM1409 144h3v1h-3zM1407 145h2v1h-2zM1405 146h2v1h-2zM1403 147h2v1h-2zM1402 148h1v1h-1zM1400 149h2v1h-2zM1398 150h2v1h-2zM1397 151h1v1h-1zM1395 152h2v1h-2zM1393 153h2v1h-2zM1391 154h2v1h-2zM1389 155h2v1h-2zM1387 156h2v1h-2zM1385 157h2v1h-2zM1382 158h3v1h-3zM1380 159h2v1h-2zM1376 160h4v1h-4zM1372 161h4v1h-4zM1368 162h4v1h-4zM1364 163h4v1h-4zM1358 164h6v1h-6zM1352 165h6v1h-6zM1348 166h4v1h-4zM1344 167h4v1h-4zM1340 168h4v1h-4zM1334 169h6v1h-6zM1310 170h24v1h-24zM1302 171h8v1h-8zM1296 172h6v1h-6zM1292 173h4v1h-4zM1289 174h3v1h-3zM1286 175h3v1h-3zM1284 176h2v1h-2zM1281 177h3v1h-3zM1278 178h3v1h-3zM1276 179h2v1h-2zM1273 180h3v1h-3zM1271 181h2v1h-2zM1269 182h2v1h-2zM1267 183h2v1h-2zM1264 184h3v1h-3zM1260 185h4v1h-4zM1257 186h3v1h-3zM1255 187h2v1h-2zM1253 188h2v1h-2zM1251 189h2v1h-2zM1214 190h24v1h-24zM1246 190h5v1h-5zM1206 191h8v1h-8zM1238 191h8v1h-8zM1201 192h5v1h-5zM1198 193h3v1h-3zM1196 194h2v1h-2zM1193 195h3v1h-3zM1190 196h3v1h-3zM1188 197h2v1h-2zM1185 198h3v1h-3zM1182 199h3v1h-3zM1180 200h2v1h-2zM1176 201h4v1h-4zM1172 202h4v1h-4zM1169 203h3v1h-3zM1167 204h2v1h-2zM1165 205h2v1h-2zM1163 206h2v1h-2zM1160 207h3v1h-3zM1156 208h4v1h-4zM1153 209h3v1h-3zM1150 210h3v1h-3zM1148 211h2v1h-2zM1145 212h3v1h-3zM1142 213h3v1h-3zM1140 214h2v1h-2zM1137 215h3v1h-3zM1135 216h2v1h-2zM1133 217h2v1h-2zM1131 218h2v1h-2zM1130 219h1v1h-1zM1128 220h2v1h-2zM1126 221h2v1h-2zM1125 222h1v1h-1zM1123 223h2v1h-2zM1121 224h2v1h-2zM1119 225h2v1h-2zM1117 226h2v1h-2zM1115 227h2v1h-2zM1113 228h2v1h-2zM1110 229h3v1h-3zM1108 230h2v1h-2zM1105 231h3v1h-3zM1102 232h3v1h-3zM1100 233h2v1h-2zM1097 234h3v1h-3zM1095 235h2v1h-2zM1093 236h2v1h-2zM1091 237h2v1h-2zM1089 238h2v1h-2zM1087 239h2v1h-2zM1085 240h2v1h-2zM1083 241h2v1h-2zM1082 242h1v1h-1zM1080 243h2v1h-2zM1078 244h2v1h-2zM1077 245h1v1h-1zM1075 246h2v1h-2zM1074 247h1v1h-1zM1072 248h2v1h-2zM1070 249h2v1h-2zM1069 250h1v1h-1zM1067 251h2v1h-2zM1065 252h2v1h-2zM1063 253h2v1h-2zM1061 254h2v1h-2zM1059 255h2v1h-2zM1057 256h2v1h-2zM1054 257h3v1h-3zM1052 258h2v1h-2zM1049 259h3v1h-3zM1046 260h3v1h-3zM1044 261h2v1h-2zM1041 262h3v1h-3zM1038 263h3v1h-3zM1036 264h2v1h-2zM1030 265h6v1h-6zM1024 266h6v1h-6zM1020 267h4v1h-4zM1017 268h3v1h-3zM1014 269h3v1h-3zM1012 270h2v1h-2zM1009 271h3v1h-3zM1007 272h2v1h-2zM1005 273h2v1h-2zM1003 274h2v1h-2zM1001 275h2v1h-2zM999 276h2v1h-2zM997 277h2v1h-2zM995 278h2v1h-2zM994 279h1v1h-1zM992 280h2v1h-2zM990 281h2v1h-2zM989 282h1v1h-1zM987 283h2v1h-2zM985 284h2v1h-2zM983 285h2v1h-2zM981 286h2v1h-2zM979 287h2v1h-2zM977 288h2v1h-2zM974 289h3v1h-3zM972 290h2v1h-2zM966 291h6v1h-6zM961 292h5v1h-5zM958 293h3v1h-3zM956 294h2v1h-2zM950 295h6v1h-6zM945 296h5v1h-5zM942 297h3v1h-3zM940 298h2v1h-2zM936 299h4v1h-4zM932 300h4v1h-4zM928 301h4v1h-4zM924 302h4v1h-4zM918 303h6v1h-6zM912 304h6v1h-6zM908 305h4v1h-4zM902 306h6v1h-6zM896 307h6v1h-6zM892 308h4v1h-4zM888 309h4v1h-4zM884 310h4v1h-4zM880 311h4v1h-4zM876 312h4v1h-4zM873 313h3v1h-3zM870 314h3v1h-3zM868 315h2v1h-2zM866 316h2v1h-2zM864 317h2v1h-2zM863 318h1v1h-1zM862 319h1v1h-1zM860 320h2v1h-2zM859 321h1v1h-1zM857 322h2v1h-2zM855 323h2v1h-2zM853 324h2v1h-2zM851 325h2v1h-2zM850 326h1v1h-1zM848 327h2v1h-2zM847 328h1v1h-1zM846 329h1v1h-1zM844 330h2v1h-2zM843 331h1v1h-1zM841 332h2v1h-2zM838 333h3v1h-3zM836 334h2v1h-2zM833 335h3v1h-3zM831 336h2v1h-2zM829 337h2v1h-2zM827 338h2v1h-2zM825 339h2v1h-2zM823 340h2v1h-2zM821 341h2v1h-2zM150 342h16v1h-16zM819 342h2v1h-2zM134 343h16v1h-16zM166 343h14v1h-14zM542 343h8v1h-8zM818 343h1v1h-1zM126 344h8v1h-8zM180 344h4v1h-4zM534 344h8v1h-8zM550 344h6v1h-6zM816 344h2v1h-2zM121 345h5v1h-5zM184 345h6v1h-6zM528 345h6v1h-6zM556 345h4v1h-4zM814 345h2v1h-2zM118 346h3v1h-3zM190 346h6v1h-6zM524 346h4v1h-4zM560 346h3v1h-3zM813 346h1v1h-1zM116 347h2v1h-2zM196 347h4v1h-4zM521 347h3v1h-3zM563 347h2v1h-2zM811 347h2v1h-2zM113 348h3v1h-3zM200 348h4v1h-4zM518 348h3v1h-3zM565 348h2v1h-2zM810 348h1v1h-1zM110 349h3v1h-3zM204 349h2v1h-2zM516 349h2v1h-2zM567 349h2v1h-2zM808 349h2v1h-2zM108 350h2v1h-2zM206 350h3v1h-3zM510 350h6v1h-6zM569 350h2v1h-2zM807 350h1v1h-1zM105 351h3v1h-3zM209 351h3v1h-3zM502 351h8v1h-8zM571 351h2v1h-2zM806 351h1v1h-1zM102 352h3v1h-3zM212 352h2v1h-2zM326 352h16v1h-16zM497 352h5v1h-5zM573 352h2v1h-2zM804 352h2v1h-2zM100 353h2v1h-2zM214 353h3v1h-3zM320 353h6v1h-6zM342 353h6v1h-6zM494 353h3v1h-3zM575 353h2v1h-2zM803 353h1v1h-1zM97 354h3v1h-3zM217 354h3v1h-3zM316 354h4v1h-4zM348 354h2v1h-2zM492 354h2v1h-2zM577 354h3v1h-3zM802 354h1v1h-1zM95 355h2v1h-2zM220 355h2v1h-2zM312 355h4v1h-4zM350 355h3v1h-3zM488 355h4v1h-4zM580 355h2v1h-2zM801 355h1v1h-1zM93 356h2v1h-2zM222 356h3v1h-3zM308 356h4v1h-4zM353 356h3v1h-3zM484 356h4v1h-4zM582 356h3v1h-3zM800 356h1v1h-1zM91 357h2v1h-2zM225 357h5v1h-5zM305 357h3v1h-3zM356 357h2v1h-2zM478 357h6v1h-6zM585 357h2v1h-2zM799 357h1v1h-1zM90 358h1v1h-1zM230 358h6v1h-6zM302 358h3v1h-3zM358 358h3v1h-3zM470 358h8v1h-8zM587 358h1v1h-1zM798 358h1v1h-1zM88 359h2v1h-2zM236 359h4v1h-4zM300 359h2v1h-2zM361 359h3v1h-3zM454 359h16v1h-16zM588 359h2v1h-2zM797 359h1v1h-1zM86 360h2v1h-2zM240 360h3v1h-3zM296 360h4v1h-4zM364 360h2v1h-2zM422 360h32v1h-32zM590 360h1v1h-1zM796 360h1v1h-1zM85 361h1v1h-1zM243 361h2v1h-2zM292 361h4v1h-4zM366 361h3v1h-3zM417 361h5v1h-5zM591 361h1v1h-1zM795 361h1v1h-1zM83 362h2v1h-2zM245 362h2v1h-2zM288 362h4v1h-4zM369 362h3v1h-3zM414 362h3v1h-3zM592 362h2v1h-2zM794 362h1v1h-1zM81 363h2v1h-2zM247 363h2v1h-2zM284 363h4v1h-4zM372 363h2v1h-2zM412 363h2v1h-2zM594 363h1v1h-1zM793 363h1v1h-1zM79 364h2v1h-2zM249 364h5v1h-5zM278 364h6v1h-6zM374 364h3v1h-3zM408 364h4v1h-4zM595 364h2v1h-2zM792 364h1v1h-1zM77 365h2v1h-2zM254 365h24v1h-24zM377 365h3v1h-3zM404 365h4v1h-4zM597 365h1v1h-1zM791 365h1v1h-1zM75 366h2v1h-2zM380 366h4v1h-4zM400 366h4v1h-4zM598 366h2v1h-2zM790 366h1v1h-1zM73 367h2v1h-2zM384 367h6v1h-6zM396 367h4v1h-4zM600 367h2v1h-2zM789 367h1v1h-1zM70 368h3v1h-3zM390 368h6v1h-6zM602 368h1v1h-1zM788 368h1v1h-1zM68 369h2v1h-2zM603 369h1v1h-1zM787 369h1v1h-1zM65 370h3v1h-3zM604 370h1v1h-1zM786 370h1v1h-1zM62 371h3v1h-3zM605 371h1v1h-1zM785 371h1v1h-1zM60 372h2v1h-2zM606 372h2v1h-2zM784 372h1v1h-1zM57 373h3v1h-3zM608 373h1v1h-1zM783 373h1v1h-1zM54 374h3v1h-3zM609 374h1v1h-1zM782 374h1v1h-1zM52 375h2v1h-2zM610 375h1v1h-1zM781 375h1v1h-1zM49 376h3v1h-3zM611 376h1v1h-1zM780 376h1v1h-1zM47 377h2v1h-2zM612 377h2v1h-2zM779 377h1v1h-1zM45 378h2v1h-2zM614 378h1v1h-1zM778 378h1v1h-1zM43 379h2v1h-2zM615 379h1v1h-1zM777 379h1v1h-1zM41 380h2v1h-2zM616 380h2v1h-2zM776 380h1v1h-1zM38 381h3v1h-3zM618 381h1v1h-1zM775 381h1v1h-1zM36 382h2v1h-2zM619 382h1v1h-1zM774 382h1v1h-1zM33 383h3v1h-3zM620 383h1v1h-1zM773 383h1v1h-1zM30 384h3v1h-3zM621 384h1v1h-1zM772 384h1v1h-1zM28 385h2v1h-2zM622 385h1v1h-1zM771 385h1v1h-1zM25 386h3v1h-3zM623 386h1v1h-1zM770 386h1v1h-1zM22 387h3v1h-3zM624 387h1v1h-1zM768 387h2v1h-2zM20 388h2v1h-2zM625 388h1v1h-1zM766 388h2v1h-2zM16 389h4v1h-4zM626 389h1v1h-1zM765 389h1v1h-1zM12 390h4v1h-4zM627 390h1v1h-1zM763 390h2v1h-2zM9 391h3v1h-3zM628 391h1v1h-1zM762 391h1v1h-1zM6 392h3v1h-3zM629 392h1v1h-1zM761 392h1v1h-1zM4 393h2v1h-2zM630 393h1v1h-1zM760 393h1v1h-1zM2 394h2v1h-2zM630 394h1v1h-1zM758 394h2v1h-2zM631 395h1v1h-1zM757 395h1v1h-1zM632 396h1v1h-1zM756 396h1v1h-1zM633 397h1v1h-1zM755 397h1v1h-1zM634 398h1v1h-1zM754 398h1v1h-1zM635 399h1v1h-1zM752 399h2v1h-2zM636 400h2v1h-2zM750 400h2v1h-2zM638 401h1v1h-1zM749 401h1v1h-1zM639 402h1v1h-1zM747 402h2v1h-2zM640 403h2v1h-2zM745 403h2v1h-2zM642 404h1v1h-1zM743 404h2v1h-2zM643 405h2v1h-2zM741 405h2v1h-2zM645 406h1v1h-1zM739 406h2v1h-2zM646 407h2v1h-2zM738 407h1v1h-1zM648 408h2v1h-2zM736 408h2v1h-2zM650 409h1v1h-1zM734 409h2v1h-2zM651 410h1v1h-1zM733 410h1v1h-1zM652 411h2v1h-2zM731 411h2v1h-2zM654 412h1v1h-1zM730 412h1v1h-1zM655 413h1v1h-1zM728 413h2v1h-2zM656 414h2v1h-2zM727 414h1v1h-1zM658 415h1v1h-1zM726 415h1v1h-1zM659 416h1v1h-1zM724 416h2v1h-2zM660 417h2v1h-2zM723 417h1v1h-1zM662 418h1v1h-1zM722 418h1v1h-1zM663 419h1v1h-1zM720 419h2v1h-2zM664 420h2v1h-2zM719 420h1v1h-1zM666 421h2v1h-2zM718 421h1v1h-1zM668 422h2v1h-2zM716 422h2v1h-2zM670 423h3v1h-3zM715 423h1v1h-1zM673 424h3v1h-3zM713 424h2v1h-2zM676 425h2v1h-2zM710 425h3v1h-3zM678 426h3v1h-3zM708 426h2v1h-2zM681 427h3v1h-3zM704 427h4v1h-4zM684 428h4v1h-4zM700 428h4v1h-4zM688 429h12v1h-12z" fill="#FFA500"/>
<rect x="2" y="66" width="1686" height="2" fill="#FF0000"/>
<rect x="2" y="150" width="1686" height="2" fill="#32CD32"/>
<rect x="2" y="212" width="1686" height="2" fill="#4169E1"/>
<rect x="2" y="296" width="1686" height="2" fill="#4169E1"/>
</g>
<g clip-path="url(#cd)" shape-rendering="crispEdges">
<rect x="2" y="560" width="1" height="34" fill="#C0C0C0"/>
<rect x="10" y="554" width="1" height="40" fill="#C0C0C0"/>
<rect x="18" y="549" width="1" height="45" fill="#C0C0C0"/>
<rect x="26" y="542" width="1" height="52" fill="#C0C0C0"/>
<rect x="34" y="538" width="1" height="56" fill="#C0C0C0"/>
<rect x="42" y="533" width="1" height="61" fill="#C0C0C0"/>
<rect x="50" y="530" width="1" height="64" fill="#C0C0C0"/>
<rect x="58" y="532" width="1" height="62" fill="#C0C0C0"/>
<rect x="66" y="538" width="1" height="56" fill="#C0C0C0"/>
<rect x="74" y="546" width="1" height="48" fill="#C0C0C0"/>
<rect x="82" y="548" width="1" height="46" fill="#C0C0C0"/>
<rect x="90" y="549" width="1" height="45" fill="#C0C0C0"/>
<rect x="98" y="554" width="1" height="40" fill="#C0C0C0"/>
<rect x="106" y="559" width="1" height="35" fill="#C0C0C0"/>
<rect x="114" y="566" width="1" height="28" fill="#C0C0C0"/>
<rect x="122" y="572" width="1" height="22" fill="#C0C0C0"/>
<rect x="130" y="575" width="1" height="19" fill="#C0C0C0"/>
<rect x="138" y="580" width="1" height="14" fill="#C0C0C0"/>
<rect x="146" y="586" width="1" height="8" fill="#C0C0C0"/>
<rect x="154" y="587" width="1" height="7" fill="#C0C0C0"/>
<rect x="162" y="589" width="1" height="5" fill="#C0C0C0"/>
<rect x="170" y="591" width="1" height="3" fill="#C0C0C0"/>
<rect x="178" y="588" width="1" height="6" fill="#C0C0C0"/>
<rect x="186" y="588" width="1" height="6" fill="#C0C0C0"/>
<rect x="194" y="587" width="1" height="7" fill="#C0C0C0"/>
<rect x="202" y="585" width="1" height="9" fill="#C0C0C0"/>
<rect x="210" y="588" width="1" height="6" fill="#C0C0C0"/>
<rect x="218" y="590" width="1" height="4" fill="#C0C0C0"/>
<rect x="226" y="591" width="1" height="3" fill="#C0C0C0"/>
<rect x="234" y="593" width="1" height="3" fill="#C0C0C0"/>
<rect x="242" y="593" width="1" height="8" fill="#C0C0C0"/>
<rect x="250" y="593" width="1" height="14" fill="#C0C0C0"/>
<rect x="258" y="593" width="1" height="12" fill="#C0C0C0"/>
<rect x="266" y="593" width="1" height="7" fill="#C0C0C0"/>
<rect x="274" y="593" width="1" height="2" fill="#C0C0C0"/>
<rect x="282" y="593" width="1" height="1" fill="#C0C0C0"/>
<rect x="290" y="587" width="1" height="7" fill="#C0C0C0"/>
<rect x="298" y="579" width="1" height="15" fill="#C0C0C0"/>
<rect x="306" y="574" width="1" height="20" fill="#C0C0C0"/>
<rect x="314" y="573" width="1" height="21" fill="#C0C0C0"/>
<rect x="322" y="573" width="1" height="21" fill="#C0C0C0"/>
<rect x="330" y="575" width="1" height="19" fill="#C0C0C0"/>
<rect x="338" y="581" width="1" height="13" fill="#C0C0C0"/>
<rect x="346" y="587" width="1" height="7" fill="#C0C0C0"/>
<rect x="354" y="593" width="1" height="5" fill="#C0C0C0"/>
<rect x="362" y="593" width="1" height="14" fill="#C0C0C0"/>
<rect x="370" y="593" width="1" height="20" fill="#C0C0C0"/>
<rect x="378" y="593" width="1" height="26" fill="#C0C0C0"/>
<rect x="386" y="593" width="1" height="30" fill="#C0C0C0"/>
<rect x="394" y="593" width="1" height="26" fill="#C0C0C0"/>
<rect x="402" y="593" width="1" height="20" fill="#C0C0C0"/>
<rect x="410" y="593" width="1" height="13" fill="#C0C0C0"/>
<rect x="418" y="593" width="1" height="6" fill="#C0C0C0"/>
<rect x="426" y="593" width="1" height="1" fill="#C0C0C0"/>
<rect x="434" y="589" width="1" height="5" fill="#C0C0C0"/>
<rect x="442" y="586" width="1" height="8" fill="#C0C0C0"/>
<rect x="450" y="586" width="1" height="8" fill="#C0C0C0"/>
<rect x="458" y="580" width="1" height="14" fill="#C0C0C0"/>
<rect x="466" y="573" width="1" height="21" fill="#C0C0C0"/>
<rect x="474" y="568" width="1" height="26" fill="#C0C0C0"/>
<rect x="482" y="563" width="1" height="31" fill="#C0C0C0"/>
<rect x="490" y="558" width="1" height="36" fill="#C0C0C0"/>
<rect x="498" y="555" width="1" height="39" fill="#C0C0C0"/>
<rect x="506" y="562" width="1" height="32" fill="#C0C0C0"/>
<rect x="514" y="567" width="1" height="27" fill="#C0C0C0"/>
<rect x="522" y="574" width="1" height="20" fill="#C0C0C0"/>
<rect x="530" y="582" width="1" height="12" fill="#C0C0C0"/>
<rect x="538" y="590" width="1" height="4" fill="#C0C0C0"/>
<rect x="546" y="593" width="1" height="7" fill="#C0C0C0"/>
<rect x="554" y="593" width="1" height="21" fill="#C0C0C0"/>
<rect x="562" y="593" width="1" height="30" fill="#C0C0C0"/>
<rect x="570" y="593" width="1" height="37" fill="#C0C0C0"/>
<rect x="578" y="593" width="1" height="41" fill="#C0C0C0"/>
<rect x="586" y="593" width="1" height="43" fill="#C0C0C0"/>
<rect x="594" y="593" width="1" height="51" fill="#C0C0C0"/>
<rect x="602" y="593" width="1" height="53" fill="#C0C0C0"/>
<rect x="610" y="593" width="1" height="62" fill="#C0C0C0"/>
<rect x="618" y="593" width="1" height="67" fill="#C0C0C0"/>
<rect x="626" y="593" width="1" height="71" fill="#C0C0C0"/>
<rect x="634" y="593" width="1" height="74" fill="#C0C0C0"/>
<rect x="642" y="593" width="1" height="68" fill="#C0C0C0"/>
<rect x="650" y="593" width="1" height="56" fill="#C0C0C0"/>
<rect x="658" y="593" width="1" height="47" fill="#C0C0C0"/>
<rect x="666" y="593" width="1" height="40" fill="#C0C0C0"/>
<rect x="674" y="593" width="1" height="35" fill="#C0C0C0"/>
<rect x="682" y="593" width="1" height="28" fill="#C0C0C0"/>
<rect x="690" y="593" width="1" height="19" fill="#C0C0C0"/>
<rect x="698" y="593" width="1" height="11" fill="#C0C0C0"/>
<rect x="706" y="591" width="1" height="3" fill="#C0C0C0"/>
<rect x="714" y="578" width="1" height="16" fill="#C0C0C0"/>
<rect x="722" y="567" width="1" height="27" fill="#C0C0C0"/>
<rect x="730" y="558" width="1" height="36" fill="#C0C0C0"/>
<rect x="738" y="554" width="1" height="40" fill="#C0C0C0"/>
<rect x="746" y="552" width="1" height="42" fill="#C0C0C0"/>
<rect x="754" y="548" width="1" height="46" fill="#C0C0C0"/>
<rect x="762" y="547" width="1" height="47" fill="#C0C0C0"/>
<rect x="770" y="546" width="1" height="48" fill="#C0C0C0"/>
<rect x="778" y="547" width="1" height="47" fill="#C0C0C0"/>
<rect x="786" y="546" width="1" height="48" fill="#C0C0C0"/>
<rect x="794" y="548" width="1" height="46" fill="#C0C0C0"/>
<rect x="802" y="547" width="1" height="47" fill="#C0C0C0"/>
<rect x="810" y="547" width="1" height="47" fill="#C0C0C0"/>
<rect x="818" y="549" width="1" height="45" fill="#C0C0C0"/>
<rect x="826" y="552" width="1" height="42" fill="#C0C0C0"/>
<rect x="834" y="556" width="1" height="38" fill="#C0C0C0"/>
<rect x="842" y="560" width="1" height="34" fill="#C0C0C0"/>
<rect x="850" y="557" width="1" height="37" fill="#C0C0C0"/>
<rect x="858" y="554" width="1" height="40" fill="#C0C0C0"/>
<rect x="866" y="548" width="1" height="46" fill="#C0C0C0"/>
<rect x="874" y="545" width="1" height="49" fill="#C0C0C0"/>
<rect x="882" y="545" width="1" height="49" fill="#C0C0C0"/>
<rect x="890" y="543" width="1" height="51" fill="#C0C0C0"/>
<rect x="898" y="545" width="1" height="49" fill="#C0C0C0"/>
<rect x="906" y="549" width="1" height="45" fill="#C0C0C0"/>
<rect x="914" y="552" width="1" height="42" fill="#C0C0C0"/>
<rect x="922" y="555" width="1" height="39" fill="#C0C0C0"/>
<rect x="930" y="557" width="1" height="37" fill="#C0C0C0"/>
<rect x="938" y="556" width="1" height="38" fill="#C0C0C0"/>
<rect x="946" y="555" width="1" height="39" fill="#C0C0C0"/>
<rect x="954" y="558" width="1" height="36" fill="#C0C0C0"/>
<rect x="962" y="560" width="1" height="34" fill="#C0C0C0"/>
<rect x="970" y="562" width="1" height="32" fill="#C0C0C0"/>
<rect x="978" y="559" width="1" height="35" fill="#C0C0C0"/>
<rect x="986" y="554" width="1" height="40" fill="#C0C0C0"/>
<rect x="994" y="549" width="1" height="45" fill="#C0C0C0"/>
<rect x="1002" y="549" width="1" height="45" fill="#C0C0C0"/>
<rect x="1010" y="548" width="1" height="46" fill="#C0C0C0"/>
<rect x="1018" y="548" width="1" height="46" fill="#C0C0C0"/>
<rect x="1026" y="550" width="1" height="44" fill="#C0C0C0"/>
<rect x="1034" y="550" width="1" height="44" fill="#C0C0C0"/>
<rect x="1042" y="548" width="1" height="46" fill="#C0C0C0"/>
<rect x="1050" y="546" width="1" height="48" fill="#C0C0C0"/>
<rect x="1058" y="543" width="1" height="51" fill="#C0C0C0"/>
<rect x="1066" y="542" width="1" height="52" fill="#C0C0C0"/>
<rect x="1074" y="538" width="1" height="56" fill="#C0C0C0"/>
<rect x="1082" y="537" width="1" height="57" fill="#C0C0C0"/>
<rect x="1090" y="540" width="1" height="54" fill="#C0C0C0"/>
<rect x="1098" y="543" width="1" height="51" fill="#C0C0C0"/>
<rect x="1106" y="543" width="1" height="51" fill="#C0C0C0"/>
<rect x="1114" y="546" width="1" height="48" fill="#C0C0C0"/>
<rect x="1122" y="548" width="1" height="46" fill="#C0C0C0"/>
<rect x="1130" y="548" width="1" height="46" fill="#C0C0C0"/>
<rect x="1138" y="550" width="1" height="44" fill="#C0C0C0"/>
<rect x="1146" y="549" width="1" height="45" fill="#C0C0C0"/>
<rect x="1154" y="548" width="1" height="46" fill="#C0C0C0"/>
<rect x="1162" y="548" width="1" height="46" fill="#C0C0C0"/>
<rect x="1170" y="546" width="1" height="48" fill="#C0C0C0"/>
<rect x="1178" y="548" width="1" height="46" fill="#C0C0C0"/>
<rect x="1186" y="551" width="1" height="43" fill="#C0C0C0"/>
<rect x="1194" y="552" width="1" height="42" fill="#C0C0C0"/>
<rect x="1202" y="554" width="1" height="40" fill="#C0C0C0"/>
<rect x="1210" y="557" width="1" height="37" fill="#C0C0C0"/>
<rect x="1218" y="561" width="1" height="33" fill="#C0C0C0"/>
<rect x="1226" y="567" width="1" height="27" fill="#C0C0C0"/>
<rect x="1234" y="571" width="1" height="23" fill="#C0C0C0"/>
<rect x="1242" y="576" width="1" height="18" fill="#C0C0C0"/>
<rect x="1250" y="571" width="1" height="23" fill="#C0C0C0"/>
<rect x="1258" y="565" width="1" height="29" fill="#C0C0C0"/>
<rect x="1266" y="562" width="1" height="32" fill="#C0C0C0"/>
<rect x="1274" y="556" width="1" height="38" fill="#C0C0C0"/>
<rect x="1282" y="554" width="1" height="40" fill="#C0C0C0"/>
<rect x="1290" y="552" width="1" height="42" fill="#C0C0C0"/>
<rect x="1298" y="556" width="1" height="38" fill="#C0C0C0"/>
<rect x="1306" y="559" width="1" height="35" fill="#C0C0C0"/>
<rect x="1314" y="562" width="1" height="32" fill="#C0C0C0"/>
<rect x="1322" y="567" width="1" height="27" fill="#C0C0C0"/>
<rect x="1330" y="568" width="1" height="26" fill="#C0C0C0"/>
<rect x="1338" y="568" width="1" height="26" fill="#C0C0C0"/>
<rect x="1346" y="566" width="1" height="28" fill="#C0C0C0"/>
<rect x="1354" y="566" width="1" height="28" fill="#C0C0C0"/>
<rect x="1362" y="566" width="1" height="28" fill="#C0C0C0"/>
<rect x="1370" y="568" width="1" height="26" fill="#C0C0C0"/>
<rect x="1378" y="567" width="1" height="27" fill="#C0C0C0"/>
<rect x="1386" y="566" width="1" height="28" fill="#C0C0C0"/>
<rect x="1394" y="562" width="1" height="32" fill="#C0C0C0"/>
<rect x="1402" y="560" width="1" height="34" fill="#C0C0C0"/>
<rect x="1410" y="559" width="1" height="35" fill="#C0C0C0"/>
<rect x="1418" y="558" width="1" height="36" fill="#C0C0C0"/>
<rect x="1426" y="555" width="1" height="39" fill="#C0C0C0"/>
<rect x="1434" y="552" width="1" height="42" fill="#C0C0C0"/>
<rect x="1442" y="551" width="1" height="43" fill="#C0C0C0"/>
<rect x="1450" y="550" width="1" height="44" fill="#C0C0C0"/>
<rect x="1458" y="552" width="1" height="42" fill="#C0C0C0"/>
<rect x="1466" y="554" width="1" height="40" fill="#C0C0C0"/>
<rect x="1474" y="556" width="1" height="38" fill="#C0C0C0"/>
<rect x="1482" y="557" width="1" height="37" fill="#C0C0C0"/>
<rect x="1490" y="554" width="1" height="40" fill="#C0C0C0"/>
<rect x="1498" y="553" width="1" height="41" fill="#C0C0C0"/>
<rect x="1506" y="549" width="1" height="45" fill="#C0C0C0"/>
<rect x="1514" y="545" width="1" height="49" fill="#C0C0C0"/>
<rect x="1522" y="540" width="1" height="54" fill="#C0C0C0"/>
<rect x="1530" y="539" width="1" height="55" fill="#C0C0C0"/>
<rect x="1538" y="540" width="1" height="54" fill="#C0C0C0"/>
<rect x="1546" y="538" width="1" height="56" fill="#C0C0C0"/>
<rect x="1554" y="544" width="1" height="50" fill="#C0C0C0"/>
<rect x="1562" y="551" width="1" height="43" fill="#C0C0C0"/>
<rect x="1570" y="555" width="1" height="39" fill="#C0C0C0"/>
<rect x="1578" y="558" width="1" height="36" fill="#C0C0C0"/>
<rect x="1586" y="560" width="1" height="34" fill="#C0C0C0"/>
<rect x="1594" y="573" width="1" height="21" fill="#C0C0C0"/>
<rect x="1602" y="578" width="1" height="16" fill="#C0C0C0"/>
<rect x="1610" y="586" width="1" height="8" fill="#C0C0C0"/>
<rect x="1618" y="593" width="1" height="4" fill="#C0C0C0"/>
<rect x="1626" y="593" width="1" height="9" fill="#C0C0C0"/>
<rect x="1634" y="593" width="1" height="15" fill="#C0C0C0"/>
<rect x="1642" y="593" width="1" height="10" fill="#C0C0C0"/>
<rect x="1650" y="593" width="1" height="8" fill="#C0C0C0"/>
<rect x="1658" y="593" width="1" height="7" fill="#C0C0C0"/>
<rect x="1666" y="593" width="1" height="4" fill="#C0C0C0"/>
<path d="M80 539h3v1h-3zM86 539h3v1h-3zM92 539h2v1h-2zM70 540h1v1h-1zM74 540h3v1h-3zM94 540h1v1h-1zM98 540h2v1h-2zM68 541h2v1h-2zM100 541h1v1h-1zM1113 541h3v1h-3zM62 542h3v1h-3zM104 542h1v1h-1zM1095 542h3v1h-3zM1101 542h3v1h-3zM1107 542h3v1h-3zM1119 542h3v1h-3zM1125 542h3v1h-3zM1131 542h3v1h-3zM105 543h2v1h-2zM1089 543h3v1h-3zM1137 543h3v1h-3zM57 544h2v1h-2zM1078 544h2v1h-2zM1083 544h3v1h-3zM1143 544h3v1h-3zM1552 544h2v1h-2zM1557 544h3v1h-3zM1563 544h3v1h-3zM1569 544h3v1h-3zM56 545h1v1h-1zM110 545h1v1h-1zM1072 545h2v1h-2zM1077 545h1v1h-1zM1149 545h3v1h-3zM1551 545h1v1h-1zM1575 545h3v1h-3zM111 546h2v1h-2zM1071 546h1v1h-1zM1155 546h3v1h-3zM1161 546h3v1h-3zM1545 546h3v1h-3zM1581 546h3v1h-3zM51 547h2v1h-2zM807 547h3v1h-3zM813 547h3v1h-3zM819 547h3v1h-3zM825 547h3v1h-3zM1054 547h2v1h-2zM1059 547h3v1h-3zM1065 547h3v1h-3zM1167 547h3v1h-3zM1173 547h3v1h-3zM1179 547h3v1h-3zM1540 547h2v1h-2zM1587 547h1v1h-1zM50 548h1v1h-1zM116 548h1v1h-1zM801 548h3v1h-3zM831 548h3v1h-3zM910 548h2v1h-2zM915 548h3v1h-3zM921 548h3v1h-3zM927 548h3v1h-3zM933 548h1v1h-1zM1048 548h2v1h-2zM1053 548h1v1h-1zM1185 548h3v1h-3zM1191 548h3v1h-3zM1197 548h1v1h-1zM1534 548h2v1h-2zM1539 548h1v1h-1zM1588 548h2v1h-2zM117 549h2v1h-2zM795 549h3v1h-3zM837 549h3v1h-3zM903 549h3v1h-3zM909 549h1v1h-1zM934 549h2v1h-2zM939 549h3v1h-3zM1047 549h1v1h-1zM1198 549h2v1h-2zM1203 549h3v1h-3zM1528 549h2v1h-2zM1533 549h1v1h-1zM45 550h2v1h-2zM789 550h3v1h-3zM843 550h3v1h-3zM897 550h3v1h-3zM945 550h3v1h-3zM1041 550h3v1h-3zM1209 550h3v1h-3zM1527 550h1v1h-1zM1593 550h2v1h-2zM44 551h1v1h-1zM122 551h1v1h-1zM785 551h1v1h-1zM849 551h3v1h-3zM879 551h3v1h-3zM885 551h3v1h-3zM891 551h3v1h-3zM951 551h1v1h-1zM1035 551h3v1h-3zM1215 551h3v1h-3zM1521 551h3v1h-3zM1595 551h1v1h-1zM123 552h2v1h-2zM783 552h2v1h-2zM855 552h3v1h-3zM861 552h3v1h-3zM867 552h3v1h-3zM873 552h3v1h-3zM952 552h2v1h-2zM1029 552h3v1h-3zM1221 552h3v1h-3zM1510 552h2v1h-2zM1515 552h3v1h-3zM39 553h2v1h-2zM957 553h3v1h-3zM1023 553h3v1h-3zM1227 553h1v1h-1zM1486 553h2v1h-2zM1491 553h3v1h-3zM1497 553h3v1h-3zM1503 553h3v1h-3zM1509 553h1v1h-1zM1599 553h1v1h-1zM38 554h1v1h-1zM779 554h1v1h-1zM963 554h1v1h-1zM1006 554h2v1h-2zM1011 554h3v1h-3zM1017 554h3v1h-3zM1228 554h2v1h-2zM1462 554h2v1h-2zM1467 554h3v1h-3zM1473 554h3v1h-3zM1479 554h3v1h-3zM1485 554h1v1h-1zM1600 554h2v1h-2zM128 555h2v1h-2zM778 555h1v1h-1zM964 555h2v1h-2zM999 555h3v1h-3zM1005 555h1v1h-1zM1456 555h2v1h-2zM1461 555h1v1h-1zM33 556h2v1h-2zM130 556h1v1h-1zM777 556h1v1h-1zM969 556h3v1h-3zM993 556h3v1h-3zM1233 556h3v1h-3zM1455 556h1v1h-1zM32 557h1v1h-1zM975 557h3v1h-3zM981 557h3v1h-3zM987 557h3v1h-3zM1449 557h3v1h-3zM1605 557h1v1h-1zM134 558h1v1h-1zM773 558h1v1h-1zM1239 558h2v1h-2zM1444 558h2v1h-2zM1606 558h2v1h-2zM27 559h2v1h-2zM135 559h2v1h-2zM771 559h2v1h-2zM1241 559h1v1h-1zM1312 559h2v1h-2zM1317 559h3v1h-3zM1323 559h3v1h-3zM1329 559h3v1h-3zM1438 559h2v1h-2zM1443 559h1v1h-1zM26 560h1v1h-1zM1245 560h1v1h-1zM1311 560h1v1h-1zM1335 560h3v1h-3zM1341 560h1v1h-1zM1432 560h2v1h-2zM1437 560h1v1h-1zM140 561h1v1h-1zM1246 561h2v1h-2zM1305 561h3v1h-3zM1342 561h2v1h-2zM1347 561h3v1h-3zM1431 561h1v1h-1zM1611 561h1v1h-1zM21 562h2v1h-2zM141 562h1v1h-1zM767 562h1v1h-1zM1251 562h3v1h-3zM1294 562h2v1h-2zM1299 562h3v1h-3zM1353 562h3v1h-3zM1425 562h3v1h-3zM1612 562h2v1h-2zM20 563h1v1h-1zM142 563h1v1h-1zM766 563h1v1h-1zM1257 563h3v1h-3zM1287 563h3v1h-3zM1293 563h1v1h-1zM1359 563h1v1h-1zM1414 563h2v1h-2zM1419 563h3v1h-3zM765 564h1v1h-1zM1263 564h3v1h-3zM1269 564h1v1h-1zM1281 564h3v1h-3zM1360 564h2v1h-2zM1365 564h1v1h-1zM1407 564h3v1h-3zM1413 564h1v1h-1zM16 565h1v1h-1zM146 565h1v1h-1zM1270 565h2v1h-2zM1275 565h3v1h-3zM1366 565h2v1h-2zM1371 565h3v1h-3zM1401 565h3v1h-3zM1617 565h1v1h-1zM14 566h2v1h-2zM147 566h2v1h-2zM520 566h1v1h-1zM524 566h3v1h-3zM530 566h2v1h-2zM1377 566h3v1h-3zM1390 566h2v1h-2zM1395 566h3v1h-3zM1618 566h1v1h-1zM518 567h2v1h-2zM532 567h1v1h-1zM761 567h1v1h-1zM1383 567h3v1h-3zM1389 567h1v1h-1zM1619 567h1v1h-1zM152 568h1v1h-1zM512 568h3v1h-3zM536 568h3v1h-3zM760 568h1v1h-1zM8 569h3v1h-3zM153 569h2v1h-2zM508 569h1v1h-1zM759 569h1v1h-1zM4 570h1v1h-1zM506 570h2v1h-2zM542 570h1v1h-1zM1623 570h1v1h-1zM2 571h2v1h-2zM502 571h1v1h-1zM543 571h2v1h-2zM1624 571h1v1h-1zM158 572h2v1h-2zM500 572h2v1h-2zM755 572h1v1h-1zM1625 572h1v1h-1zM160 573h1v1h-1zM548 573h1v1h-1zM754 573h1v1h-1zM495 574h2v1h-2zM549 574h1v1h-1zM753 574h1v1h-1zM164 575h1v1h-1zM494 575h1v1h-1zM550 575h1v1h-1zM1629 575h1v1h-1zM165 576h2v1h-2zM1630 576h1v1h-1zM489 577h2v1h-2zM554 577h1v1h-1zM1631 577h1v1h-1zM170 578h2v1h-2zM488 578h1v1h-1zM555 578h1v1h-1zM749 578h1v1h-1zM172 579h1v1h-1zM556 579h1v1h-1zM748 579h1v1h-1zM176 580h1v1h-1zM338 580h3v1h-3zM344 580h3v1h-3zM350 580h3v1h-3zM483 580h2v1h-2zM747 580h1v1h-1zM1635 580h2v1h-2zM177 581h2v1h-2zM332 581h3v1h-3zM356 581h3v1h-3zM482 581h1v1h-1zM1637 581h1v1h-1zM182 582h2v1h-2zM362 582h1v1h-1zM560 582h1v1h-1zM184 583h1v1h-1zM327 583h2v1h-2zM363 583h2v1h-2zM478 583h1v1h-1zM561 583h1v1h-1zM1641 583h1v1h-1zM188 584h3v1h-3zM326 584h1v1h-1zM477 584h1v1h-1zM562 584h1v1h-1zM743 584h1v1h-1zM1642 584h1v1h-1zM194 585h3v1h-3zM368 585h1v1h-1zM476 585h1v1h-1zM742 585h1v1h-1zM1643 585h1v1h-1zM200 586h3v1h-3zM321 586h2v1h-2zM369 586h2v1h-2zM741 586h1v1h-1zM206 587h3v1h-3zM212 587h3v1h-3zM218 587h3v1h-3zM320 587h1v1h-1zM472 587h1v1h-1zM1647 587h1v1h-1zM224 588h3v1h-3zM316 588h1v1h-1zM470 588h2v1h-2zM566 588h1v1h-1zM1648 588h2v1h-2zM230 589h3v1h-3zM236 589h2v1h-2zM314 589h2v1h-2zM374 589h2v1h-2zM566 589h1v1h-1zM238 590h1v1h-1zM242 590h2v1h-2zM310 590h1v1h-1zM376 590h1v1h-1zM567 590h1v1h-1zM737 590h1v1h-1zM244 591h1v1h-1zM308 591h2v1h-2zM466 591h1v1h-1zM736 591h1v1h-1zM1653 591h2v1h-2zM248 592h3v1h-3zM380 592h1v1h-1zM464 592h2v1h-2zM735 592h1v1h-1zM1655 592h1v1h-1zM254 593h2v1h-2zM302 593h3v1h-3zM381 593h1v1h-1zM1659 593h1v1h-1zM256 594h1v1h-1zM260 594h2v1h-2zM382 594h1v1h-1zM571 594h1v1h-1zM1660 594h2v1h-2zM262 595h1v1h-1zM266 595h3v1h-3zM296 595h3v1h-3zM459 595h2v1h-2zM572 595h1v1h-1zM272 596h3v1h-3zM278 596h3v1h-3zM284 596h3v1h-3zM290 596h3v1h-3zM386 596h1v1h-1zM458 596h1v1h-1zM573 596h1v1h-1zM732 596h1v1h-1zM1665 596h2v1h-2zM387 597h2v1h-2zM731 597h1v1h-1zM454 598h1v1h-1zM730 598h1v1h-1zM453 599h1v1h-1zM392 600h2v1h-2zM452 600h1v1h-1zM577 600h1v1h-1zM394 601h1v1h-1zM578 601h1v1h-1zM446 602h3v1h-3zM579 602h1v1h-1zM726 602h1v1h-1zM398 603h1v1h-1zM726 603h1v1h-1zM399 604h2v1h-2zM441 604h2v1h-2zM725 604h1v1h-1zM440 605h1v1h-1zM583 605h1v1h-1zM404 606h2v1h-2zM436 606h1v1h-1zM584 606h1v1h-1zM406 607h1v1h-1zM434 607h2v1h-2zM585 607h1v1h-1zM410 608h3v1h-3zM428 608h3v1h-3zM721 608h1v1h-1zM416 609h3v1h-3zM422 609h3v1h-3zM720 609h1v1h-1zM719 610h1v1h-1zM589 611h1v1h-1zM590 612h1v1h-1zM591 613h1v1h-1zM716 614h1v1h-1zM715 615h1v1h-1zM714 616h1v1h-1zM595 617h1v1h-1zM596 618h1v1h-1zM597 619h1v1h-1zM710 620h1v1h-1zM710 621h1v1h-1zM601 622h1v1h-1zM709 622h1v1h-1zM602 623h1v1h-1zM603 624h1v1h-1zM705 626h1v1h-1zM607 627h1v1h-1zM704 627h1v1h-1zM608 628h1v1h-1zM703 628h1v1h-1zM609 629h1v1h-1zM699 632h1v1h-1zM613 633h1v1h-1zM698 633h1v1h-1zM614 634h2v1h-2zM697 634h1v1h-1zM693 637h1v1h-1zM619 638h2v1h-2zM692 638h1v1h-1zM621 639h1v1h-1zM691 639h1v1h-1zM625 641h1v1h-1zM626 642h1v1h-1zM686 642h2v1h-2zM627 643h1v1h-1zM685 643h1v1h-1zM631 645h1v1h-1zM681 645h1v1h-1zM632 646h2v1h-2zM679 646h2v1h-2zM637 648h1v1h-1zM675 648h1v1h-1zM638 649h2v1h-2zM673 649h2v1h-2zM643 650h1v1h-1zM668 650h2v1h-2zM644 651h2v1h-2zM662 651h2v1h-2zM667 651h1v1h-1zM649 652h3v1h-3zM655 652h3v1h-3zM661 652h1v1h-1z" fill="#FF0000"/>
</g>
<g clip-path="url(#cr)" shape-rendering="crispEdges">
<line x1="3" y1="719.5" x2="1687" y2="719.5" stroke="#C0C0C0" stroke-width="1" stroke-dasharray="3,3"/>
<line x1="3" y1="775.5" x2="1687" y2="775.5" stroke="#C0C0C0" stroke-width="1" stroke-dasharray="3,3"/>
<path d="M40 710h11v1h-11zM36 711h4v1h-4zM51 711h1v1h-1zM25 712h11v1h-11zM52 712h1v1h-1zM1521 712h2v1h-2zM23 713h2v1h-2zM52 713h1v1h-1zM1074 713h1v1h-1zM1519 713h2v1h-2zM1523 713h1v1h-1zM21 714h2v1h-2zM53 714h1v1h-1zM1072 714h2v1h-2zM1075 714h1v1h-1zM1517 714h2v1h-2zM1524 714h1v1h-1zM19 715h2v1h-2zM54 715h1v1h-1zM1071 715h1v1h-1zM1076 715h2v1h-2zM1515 715h2v1h-2zM1525 715h1v1h-1zM16 716h3v1h-3zM55 716h1v1h-1zM1070 716h1v1h-1zM1078 716h1v1h-1zM1170 716h1v1h-1zM1510 716h5v1h-5zM1526 716h1v1h-1zM12 717h4v1h-4zM56 717h1v1h-1zM1056 717h4v1h-4zM1068 717h2v1h-2zM1079 717h1v1h-1zM1168 717h2v1h-2zM1171 717h1v1h-1zM1506 717h4v1h-4zM1526 717h1v1h-1zM8 718h4v1h-4zM56 718h1v1h-1zM992 718h3v1h-3zM1052 718h4v1h-4zM1060 718h4v1h-4zM1067 718h1v1h-1zM1080 718h2v1h-2zM1166 718h2v1h-2zM1171 718h1v1h-1zM1433 718h2v1h-2zM1505 718h1v1h-1zM1527 718h1v1h-1zM4 719h4v1h-4zM57 719h1v1h-1zM866 719h2v1h-2zM988 719h4v1h-4zM995 719h1v1h-1zM1048 719h4v1h-4zM1064 719h3v1h-3zM1082 719h1v1h-1zM1165 719h1v1h-1zM1172 719h1v1h-1zM1430 719h3v1h-3zM1435 719h1v1h-1zM1490 719h1v1h-1zM1504 719h1v1h-1zM1528 719h1v1h-1zM1546 719h1v1h-1zM2 720h2v1h-2zM58 720h1v1h-1zM864 720h2v1h-2zM868 720h2v1h-2zM986 720h2v1h-2zM995 720h1v1h-1zM1044 720h4v1h-4zM1083 720h1v1h-1zM1163 720h2v1h-2zM1172 720h1v1h-1zM1428 720h2v1h-2zM1436 720h2v1h-2zM1489 720h1v1h-1zM1491 720h1v1h-1zM1503 720h1v1h-1zM1529 720h1v1h-1zM1544 720h3v1h-3zM58 721h1v1h-1zM863 721h1v1h-1zM870 721h3v1h-3zM984 721h2v1h-2zM996 721h1v1h-1zM1042 721h2v1h-2zM1084 721h1v1h-1zM1150 721h13v1h-13zM1173 721h1v1h-1zM1425 721h3v1h-3zM1438 721h1v1h-1zM1449 721h2v1h-2zM1489 721h1v1h-1zM1492 721h2v1h-2zM1502 721h1v1h-1zM1530 721h2v1h-2zM1542 721h2v1h-2zM1547 721h1v1h-1zM59 722h1v1h-1zM489 722h2v1h-2zM726 722h5v1h-5zM862 722h1v1h-1zM873 722h2v1h-2zM983 722h1v1h-1zM997 722h1v1h-1zM1040 722h2v1h-2zM1085 722h1v1h-1zM1146 722h4v1h-4zM1173 722h1v1h-1zM1258 722h1v1h-1zM1274 722h2v1h-2zM1423 722h2v1h-2zM1439 722h1v1h-1zM1446 722h3v1h-3zM1451 722h1v1h-1zM1488 722h1v1h-1zM1494 722h1v1h-1zM1501 722h1v1h-1zM1532 722h2v1h-2zM1541 722h1v1h-1zM1547 722h1v1h-1zM59 723h1v1h-1zM487 723h2v1h-2zM491 723h1v1h-1zM718 723h8v1h-8zM731 723h1v1h-1zM860 723h2v1h-2zM875 723h1v1h-1zM982 723h1v1h-1zM998 723h1v1h-1zM1039 723h1v1h-1zM1086 723h1v1h-1zM1144 723h2v1h-2zM1174 723h1v1h-1zM1256 723h2v1h-2zM1259 723h2v1h-2zM1272 723h2v1h-2zM1276 723h2v1h-2zM1421 723h2v1h-2zM1440 723h2v1h-2zM1444 723h2v1h-2zM1451 723h1v1h-1zM1487 723h1v1h-1zM1495 723h1v1h-1zM1500 723h1v1h-1zM1534 723h3v1h-3zM1539 723h2v1h-2zM1548 723h1v1h-1zM60 724h1v1h-1zM485 724h2v1h-2zM492 724h2v1h-2zM713 724h5v1h-5zM732 724h1v1h-1zM859 724h1v1h-1zM876 724h1v1h-1zM980 724h2v1h-2zM998 724h1v1h-1zM1038 724h1v1h-1zM1086 724h1v1h-1zM1142 724h2v1h-2zM1175 724h1v1h-1zM1255 724h1v1h-1zM1261 724h1v1h-1zM1270 724h2v1h-2zM1278 724h3v1h-3zM1394 724h2v1h-2zM1419 724h2v1h-2zM1442 724h2v1h-2zM1452 724h1v1h-1zM1486 724h1v1h-1zM1496 724h2v1h-2zM1499 724h1v1h-1zM1537 724h2v1h-2zM1548 724h1v1h-1zM60 725h1v1h-1zM483 725h2v1h-2zM494 725h1v1h-1zM711 725h2v1h-2zM733 725h1v1h-1zM753 725h2v1h-2zM856 725h3v1h-3zM877 725h1v1h-1zM890 725h1v1h-1zM979 725h1v1h-1zM999 725h1v1h-1zM1036 725h2v1h-2zM1087 725h1v1h-1zM1130 725h2v1h-2zM1141 725h1v1h-1zM1175 725h1v1h-1zM1254 725h1v1h-1zM1262 725h2v1h-2zM1269 725h1v1h-1zM1281 725h10v1h-10zM1393 725h1v1h-1zM1396 725h2v1h-2zM1416 725h3v1h-3zM1453 725h1v1h-1zM1486 725h1v1h-1zM1498 725h1v1h-1zM1548 725h1v1h-1zM61 726h1v1h-1zM480 726h3v1h-3zM495 726h1v1h-1zM709 726h2v1h-2zM734 726h2v1h-2zM751 726h2v1h-2zM755 726h2v1h-2zM786 726h1v1h-1zM852 726h4v1h-4zM878 726h1v1h-1zM888 726h2v1h-2zM891 726h1v1h-1zM978 726h1v1h-1zM1000 726h1v1h-1zM1035 726h1v1h-1zM1088 726h1v1h-1zM1105 726h2v1h-2zM1128 726h2v1h-2zM1132 726h4v1h-4zM1139 726h2v1h-2zM1176 726h1v1h-1zM1252 726h2v1h-2zM1264 726h2v1h-2zM1267 726h2v1h-2zM1291 726h1v1h-1zM1392 726h1v1h-1zM1398 726h3v1h-3zM1412 726h4v1h-4zM1454 726h1v1h-1zM1485 726h1v1h-1zM1549 726h1v1h-1zM61 727h1v1h-1zM465 727h5v1h-5zM476 727h4v1h-4zM496 727h2v1h-2zM707 727h2v1h-2zM736 727h1v1h-1zM749 727h2v1h-2zM757 727h1v1h-1zM784 727h2v1h-2zM787 727h1v1h-1zM850 727h2v1h-2zM879 727h1v1h-1zM886 727h2v1h-2zM892 727h1v1h-1zM977 727h1v1h-1zM1001 727h1v1h-1zM1014 727h6v1h-6zM1033 727h2v1h-2zM1089 727h1v1h-1zM1103 727h2v1h-2zM1107 727h2v1h-2zM1127 727h1v1h-1zM1136 727h3v1h-3zM1176 727h1v1h-1zM1193 727h2v1h-2zM1251 727h1v1h-1zM1266 727h1v1h-1zM1291 727h1v1h-1zM1390 727h2v1h-2zM1401 727h11v1h-11zM1454 727h1v1h-1zM1484 727h1v1h-1zM1549 727h1v1h-1zM61 728h1v1h-1zM462 728h3v1h-3zM470 728h6v1h-6zM498 728h1v1h-1zM706 728h1v1h-1zM737 728h1v1h-1zM747 728h2v1h-2zM758 728h2v1h-2zM782 728h2v1h-2zM788 728h1v1h-1zM802 728h2v1h-2zM849 728h1v1h-1zM880 728h1v1h-1zM885 728h1v1h-1zM893 728h1v1h-1zM976 728h1v1h-1zM1001 728h1v1h-1zM1006 728h8v1h-8zM1020 728h2v1h-2zM1030 728h3v1h-3zM1090 728h2v1h-2zM1101 728h2v1h-2zM1109 728h2v1h-2zM1126 728h1v1h-1zM1177 728h1v1h-1zM1191 728h2v1h-2zM1195 728h1v1h-1zM1250 728h1v1h-1zM1292 728h1v1h-1zM1389 728h1v1h-1zM1455 728h1v1h-1zM1483 728h1v1h-1zM1550 728h1v1h-1zM62 729h1v1h-1zM460 729h2v1h-2zM498 729h1v1h-1zM705 729h1v1h-1zM738 729h9v1h-9zM760 729h2v1h-2zM766 729h6v1h-6zM781 729h1v1h-1zM789 729h1v1h-1zM800 729h2v1h-2zM804 729h4v1h-4zM849 729h1v1h-1zM881 729h1v1h-1zM883 729h2v1h-2zM894 729h1v1h-1zM942 729h5v1h-5zM976 729h1v1h-1zM1002 729h4v1h-4zM1022 729h3v1h-3zM1028 729h2v1h-2zM1092 729h4v1h-4zM1099 729h2v1h-2zM1111 729h2v1h-2zM1124 729h2v1h-2zM1177 729h1v1h-1zM1189 729h2v1h-2zM1196 729h2v1h-2zM1250 729h1v1h-1zM1292 729h1v1h-1zM1388 729h1v1h-1zM1456 729h1v1h-1zM1483 729h1v1h-1zM1550 729h1v1h-1zM62 730h1v1h-1zM458 730h2v1h-2zM499 730h1v1h-1zM704 730h1v1h-1zM762 730h4v1h-4zM772 730h4v1h-4zM779 730h2v1h-2zM790 730h1v1h-1zM799 730h1v1h-1zM808 730h6v1h-6zM848 730h1v1h-1zM882 730h1v1h-1zM895 730h1v1h-1zM938 730h4v1h-4zM947 730h1v1h-1zM975 730h1v1h-1zM1025 730h3v1h-3zM1096 730h3v1h-3zM1113 730h5v1h-5zM1123 730h1v1h-1zM1178 730h4v1h-4zM1187 730h2v1h-2zM1198 730h1v1h-1zM1249 730h1v1h-1zM1293 730h1v1h-1zM1387 730h1v1h-1zM1457 730h1v1h-1zM1480 730h3v1h-3zM1550 730h1v1h-1zM63 731h1v1h-1zM88 731h3v1h-3zM297 731h5v1h-5zM457 731h1v1h-1zM499 731h1v1h-1zM703 731h1v1h-1zM776 731h3v1h-3zM791 731h1v1h-1zM798 731h1v1h-1zM814 731h5v1h-5zM848 731h1v1h-1zM896 731h1v1h-1zM936 731h2v1h-2zM948 731h1v1h-1zM974 731h1v1h-1zM1118 731h5v1h-5zM1182 731h5v1h-5zM1199 731h1v1h-1zM1249 731h1v1h-1zM1293 731h1v1h-1zM1345 731h3v1h-3zM1382 731h5v1h-5zM1457 731h1v1h-1zM1476 731h4v1h-4zM1551 731h1v1h-1zM63 732h1v1h-1zM84 732h4v1h-4zM91 732h1v1h-1zM295 732h2v1h-2zM302 732h5v1h-5zM457 732h1v1h-1zM500 732h1v1h-1zM702 732h1v1h-1zM792 732h1v1h-1zM796 732h2v1h-2zM819 732h1v1h-1zM847 732h1v1h-1zM897 732h1v1h-1zM934 732h2v1h-2zM949 732h1v1h-1zM973 732h1v1h-1zM1200 732h2v1h-2zM1248 732h1v1h-1zM1294 732h1v1h-1zM1343 732h2v1h-2zM1348 732h2v1h-2zM1378 732h4v1h-4zM1458 732h4v1h-4zM1470 732h6v1h-6zM1551 732h1v1h-1zM63 733h1v1h-1zM82 733h2v1h-2zM91 733h1v1h-1zM293 733h2v1h-2zM307 733h2v1h-2zM456 733h1v1h-1zM500 733h1v1h-1zM702 733h1v1h-1zM793 733h1v1h-1zM795 733h1v1h-1zM820 733h2v1h-2zM847 733h1v1h-1zM898 733h1v1h-1zM933 733h1v1h-1zM950 733h1v1h-1zM972 733h1v1h-1zM1202 733h4v1h-4zM1248 733h1v1h-1zM1294 733h1v1h-1zM1341 733h2v1h-2zM1350 733h3v1h-3zM1358 733h5v1h-5zM1377 733h1v1h-1zM1462 733h8v1h-8zM1552 733h1v1h-1zM64 734h1v1h-1zM81 734h1v1h-1zM92 734h1v1h-1zM291 734h2v1h-2zM309 734h1v1h-1zM456 734h1v1h-1zM500 734h1v1h-1zM701 734h1v1h-1zM794 734h1v1h-1zM822 734h1v1h-1zM846 734h1v1h-1zM899 734h2v1h-2zM931 734h2v1h-2zM950 734h1v1h-1zM972 734h1v1h-1zM1206 734h5v1h-5zM1248 734h1v1h-1zM1295 734h1v1h-1zM1339 734h2v1h-2zM1353 734h5v1h-5zM1363 734h1v1h-1zM1376 734h1v1h-1zM1552 734h1v1h-1zM64 735h1v1h-1zM80 735h1v1h-1zM93 735h1v1h-1zM290 735h1v1h-1zM310 735h2v1h-2zM455 735h1v1h-1zM501 735h1v1h-1zM700 735h1v1h-1zM823 735h1v1h-1zM846 735h1v1h-1zM901 735h1v1h-1zM929 735h2v1h-2zM951 735h1v1h-1zM971 735h1v1h-1zM1211 735h2v1h-2zM1247 735h1v1h-1zM1295 735h1v1h-1zM1337 735h2v1h-2zM1364 735h1v1h-1zM1375 735h1v1h-1zM1552 735h1v1h-1zM65 736h1v1h-1zM80 736h1v1h-1zM93 736h1v1h-1zM289 736h1v1h-1zM312 736h2v1h-2zM422 736h6v1h-6zM455 736h1v1h-1zM501 736h1v1h-1zM699 736h1v1h-1zM824 736h2v1h-2zM845 736h1v1h-1zM902 736h2v1h-2zM926 736h3v1h-3zM952 736h1v1h-1zM966 736h5v1h-5zM1213 736h2v1h-2zM1247 736h1v1h-1zM1296 736h1v1h-1zM1335 736h2v1h-2zM1365 736h1v1h-1zM1374 736h1v1h-1zM1553 736h1v1h-1zM65 737h1v1h-1zM79 737h1v1h-1zM94 737h1v1h-1zM272 737h3v1h-3zM288 737h1v1h-1zM314 737h2v1h-2zM414 737h8v1h-8zM428 737h4v1h-4zM438 737h5v1h-5zM454 737h1v1h-1zM502 737h1v1h-1zM694 737h5v1h-5zM826 737h2v1h-2zM845 737h1v1h-1zM904 737h2v1h-2zM910 737h8v1h-8zM924 737h2v1h-2zM953 737h1v1h-1zM958 737h8v1h-8zM1215 737h2v1h-2zM1247 737h1v1h-1zM1296 737h1v1h-1zM1333 737h2v1h-2zM1366 737h2v1h-2zM1373 737h1v1h-1zM1553 737h1v1h-1zM1584 737h3v1h-3zM66 738h1v1h-1zM78 738h1v1h-1zM95 738h1v1h-1zM178 738h1v1h-1zM268 738h4v1h-4zM275 738h1v1h-1zM288 738h1v1h-1zM316 738h4v1h-4zM409 738h5v1h-5zM432 738h6v1h-6zM443 738h1v1h-1zM453 738h1v1h-1zM502 738h1v1h-1zM690 738h4v1h-4zM828 738h4v1h-4zM844 738h1v1h-1zM906 738h4v1h-4zM918 738h6v1h-6zM954 738h4v1h-4zM1217 738h2v1h-2zM1246 738h1v1h-1zM1297 738h1v1h-1zM1331 738h2v1h-2zM1368 738h1v1h-1zM1372 738h1v1h-1zM1554 738h1v1h-1zM1580 738h4v1h-4zM1586 738h1v1h-1zM66 739h1v1h-1zM77 739h1v1h-1zM95 739h1v1h-1zM177 739h1v1h-1zM179 739h1v1h-1zM201 739h2v1h-2zM266 739h2v1h-2zM276 739h1v1h-1zM287 739h1v1h-1zM320 739h3v1h-3zM407 739h2v1h-2zM444 739h1v1h-1zM453 739h1v1h-1zM502 739h1v1h-1zM688 739h2v1h-2zM832 739h4v1h-4zM844 739h1v1h-1zM1219 739h1v1h-1zM1246 739h1v1h-1zM1297 739h1v1h-1zM1330 739h1v1h-1zM1369 739h1v1h-1zM1371 739h1v1h-1zM1554 739h1v1h-1zM1574 739h6v1h-6zM1587 739h1v1h-1zM67 740h2v1h-2zM76 740h1v1h-1zM96 740h1v1h-1zM177 740h1v1h-1zM180 740h2v1h-2zM198 740h3v1h-3zM203 740h1v1h-1zM264 740h2v1h-2zM277 740h1v1h-1zM286 740h1v1h-1zM323 740h2v1h-2zM405 740h2v1h-2zM445 740h1v1h-1zM452 740h1v1h-1zM503 740h1v1h-1zM687 740h1v1h-1zM836 740h2v1h-2zM843 740h1v1h-1zM1219 740h1v1h-1zM1245 740h1v1h-1zM1298 740h17v1h-17zM1328 740h2v1h-2zM1370 740h1v1h-1zM1555 740h1v1h-1zM1570 740h4v1h-4zM1587 740h1v1h-1zM69 741h2v1h-2zM76 741h1v1h-1zM97 741h1v1h-1zM176 741h1v1h-1zM182 741h1v1h-1zM196 741h2v1h-2zM203 741h1v1h-1zM263 741h1v1h-1zM278 741h1v1h-1zM285 741h1v1h-1zM325 741h1v1h-1zM403 741h2v1h-2zM446 741h2v1h-2zM452 741h1v1h-1zM503 741h1v1h-1zM686 741h1v1h-1zM838 741h3v1h-3zM843 741h1v1h-1zM1220 741h1v1h-1zM1245 741h1v1h-1zM1315 741h2v1h-2zM1327 741h1v1h-1zM1556 741h2v1h-2zM1568 741h2v1h-2zM1587 741h1v1h-1zM71 742h2v1h-2zM75 742h1v1h-1zM97 742h1v1h-1zM175 742h1v1h-1zM183 742h1v1h-1zM192 742h4v1h-4zM204 742h1v1h-1zM262 742h1v1h-1zM279 742h1v1h-1zM284 742h1v1h-1zM326 742h2v1h-2zM402 742h1v1h-1zM448 742h1v1h-1zM451 742h1v1h-1zM504 742h1v1h-1zM684 742h2v1h-2zM841 742h2v1h-2zM1220 742h1v1h-1zM1245 742h1v1h-1zM1317 742h1v1h-1zM1326 742h1v1h-1zM1558 742h1v1h-1zM1566 742h2v1h-2zM1588 742h1v1h-1zM1642 742h2v1h-2zM1666 742h1v1h-1zM73 743h2v1h-2zM98 743h4v1h-4zM174 743h1v1h-1zM184 743h2v1h-2zM188 743h4v1h-4zM205 743h1v1h-1zM260 743h2v1h-2zM280 743h1v1h-1zM284 743h1v1h-1zM328 743h2v1h-2zM401 743h1v1h-1zM449 743h1v1h-1zM451 743h1v1h-1zM504 743h1v1h-1zM683 743h1v1h-1zM1221 743h1v1h-1zM1244 743h1v1h-1zM1318 743h2v1h-2zM1324 743h2v1h-2zM1559 743h1v1h-1zM1565 743h1v1h-1zM1588 743h1v1h-1zM1642 743h1v1h-1zM1644 743h2v1h-2zM1664 743h2v1h-2zM102 744h5v1h-5zM174 744h1v1h-1zM186 744h2v1h-2zM206 744h1v1h-1zM259 744h1v1h-1zM281 744h1v1h-1zM283 744h1v1h-1zM330 744h1v1h-1zM400 744h1v1h-1zM450 744h1v1h-1zM504 744h1v1h-1zM681 744h2v1h-2zM1222 744h1v1h-1zM1244 744h1v1h-1zM1320 744h2v1h-2zM1323 744h1v1h-1zM1560 744h2v1h-2zM1563 744h2v1h-2zM1588 744h1v1h-1zM1641 744h1v1h-1zM1646 744h3v1h-3zM1663 744h1v1h-1zM107 745h1v1h-1zM129 745h2v1h-2zM173 745h1v1h-1zM206 745h1v1h-1zM258 745h1v1h-1zM282 745h1v1h-1zM331 745h1v1h-1zM398 745h2v1h-2zM505 745h1v1h-1zM650 745h4v1h-4zM679 745h2v1h-2zM1222 745h1v1h-1zM1244 745h1v1h-1zM1322 745h1v1h-1zM1562 745h1v1h-1zM1589 745h1v1h-1zM1641 745h1v1h-1zM1649 745h3v1h-3zM1662 745h1v1h-1zM108 746h2v1h-2zM126 746h3v1h-3zM131 746h1v1h-1zM154 746h2v1h-2zM172 746h1v1h-1zM207 746h1v1h-1zM258 746h1v1h-1zM332 746h1v1h-1zM397 746h1v1h-1zM505 746h1v1h-1zM649 746h1v1h-1zM654 746h14v1h-14zM677 746h2v1h-2zM1223 746h1v1h-1zM1234 746h2v1h-2zM1243 746h1v1h-1zM1589 746h1v1h-1zM1640 746h1v1h-1zM1652 746h2v1h-2zM1660 746h2v1h-2zM110 747h1v1h-1zM124 747h2v1h-2zM132 747h1v1h-1zM153 747h1v1h-1zM156 747h2v1h-2zM171 747h1v1h-1zM208 747h1v1h-1zM225 747h2v1h-2zM257 747h1v1h-1zM333 747h1v1h-1zM396 747h1v1h-1zM506 747h1v1h-1zM510 747h5v1h-5zM648 747h1v1h-1zM668 747h4v1h-4zM675 747h2v1h-2zM1224 747h1v1h-1zM1232 747h2v1h-2zM1236 747h2v1h-2zM1243 747h1v1h-1zM1589 747h1v1h-1zM1640 747h1v1h-1zM1654 747h3v1h-3zM1659 747h1v1h-1zM111 748h1v1h-1zM120 748h4v1h-4zM133 748h1v1h-1zM152 748h1v1h-1zM158 748h3v1h-3zM171 748h1v1h-1zM209 748h1v1h-1zM223 748h2v1h-2zM227 748h1v1h-1zM257 748h1v1h-1zM334 748h1v1h-1zM395 748h1v1h-1zM506 748h4v1h-4zM515 748h2v1h-2zM648 748h1v1h-1zM672 748h3v1h-3zM1224 748h1v1h-1zM1230 748h2v1h-2zM1238 748h3v1h-3zM1242 748h1v1h-1zM1590 748h1v1h-1zM1639 748h1v1h-1zM1657 748h2v1h-2zM112 749h2v1h-2zM116 749h4v1h-4zM134 749h2v1h-2zM151 749h1v1h-1zM161 749h10v1h-10zM209 749h1v1h-1zM221 749h2v1h-2zM228 749h1v1h-1zM256 749h1v1h-1zM334 749h1v1h-1zM394 749h1v1h-1zM517 749h1v1h-1zM647 749h1v1h-1zM1225 749h1v1h-1zM1229 749h1v1h-1zM1241 749h2v1h-2zM1590 749h1v1h-1zM1639 749h1v1h-1zM114 750h2v1h-2zM136 750h1v1h-1zM150 750h1v1h-1zM210 750h4v1h-4zM219 750h2v1h-2zM229 750h1v1h-1zM256 750h1v1h-1zM335 750h1v1h-1zM393 750h1v1h-1zM518 750h2v1h-2zM646 750h1v1h-1zM1225 750h1v1h-1zM1227 750h2v1h-2zM1590 750h1v1h-1zM1638 750h1v1h-1zM137 751h1v1h-1zM150 751h1v1h-1zM214 751h5v1h-5zM230 751h1v1h-1zM255 751h1v1h-1zM336 751h1v1h-1zM393 751h1v1h-1zM520 751h2v1h-2zM645 751h1v1h-1zM1226 751h1v1h-1zM1591 751h1v1h-1zM1602 751h1v1h-1zM1638 751h1v1h-1zM138 752h2v1h-2zM149 752h1v1h-1zM230 752h1v1h-1zM255 752h1v1h-1zM337 752h1v1h-1zM392 752h1v1h-1zM522 752h1v1h-1zM644 752h1v1h-1zM1591 752h1v1h-1zM1601 752h1v1h-1zM1603 752h2v1h-2zM1637 752h1v1h-1zM140 753h2v1h-2zM148 753h1v1h-1zM231 753h1v1h-1zM255 753h1v1h-1zM338 753h4v1h-4zM392 753h1v1h-1zM523 753h2v1h-2zM644 753h1v1h-1zM1591 753h1v1h-1zM1600 753h1v1h-1zM1605 753h1v1h-1zM1637 753h1v1h-1zM142 754h3v1h-3zM147 754h1v1h-1zM232 754h1v1h-1zM254 754h1v1h-1zM342 754h5v1h-5zM391 754h1v1h-1zM525 754h1v1h-1zM643 754h1v1h-1zM1592 754h1v1h-1zM1600 754h1v1h-1zM1606 754h2v1h-2zM1636 754h1v1h-1zM145 755h2v1h-2zM233 755h1v1h-1zM254 755h1v1h-1zM347 755h1v1h-1zM391 755h1v1h-1zM526 755h2v1h-2zM642 755h1v1h-1zM1592 755h1v1h-1zM1599 755h1v1h-1zM1608 755h2v1h-2zM1636 755h1v1h-1zM234 756h2v1h-2zM253 756h1v1h-1zM348 756h1v1h-1zM390 756h1v1h-1zM528 756h2v1h-2zM642 756h1v1h-1zM1592 756h1v1h-1zM1598 756h1v1h-1zM1610 756h1v1h-1zM1626 756h2v1h-2zM1635 756h1v1h-1zM236 757h4v1h-4zM253 757h1v1h-1zM348 757h1v1h-1zM389 757h1v1h-1zM530 757h2v1h-2zM641 757h1v1h-1zM1593 757h1v1h-1zM1597 757h1v1h-1zM1611 757h2v1h-2zM1624 757h2v1h-2zM1628 757h2v1h-2zM1635 757h1v1h-1zM240 758h3v1h-3zM253 758h1v1h-1zM349 758h1v1h-1zM389 758h1v1h-1zM532 758h4v1h-4zM641 758h1v1h-1zM1593 758h1v1h-1zM1596 758h1v1h-1zM1613 758h1v1h-1zM1622 758h2v1h-2zM1630 758h3v1h-3zM1634 758h1v1h-1zM243 759h1v1h-1zM252 759h1v1h-1zM350 759h1v1h-1zM388 759h1v1h-1zM536 759h3v1h-3zM640 759h1v1h-1zM1593 759h1v1h-1zM1596 759h1v1h-1zM1614 759h2v1h-2zM1621 759h1v1h-1zM1633 759h2v1h-2zM244 760h2v1h-2zM252 760h1v1h-1zM351 760h1v1h-1zM388 760h1v1h-1zM539 760h1v1h-1zM640 760h1v1h-1zM1594 760h2v1h-2zM1616 760h2v1h-2zM1619 760h2v1h-2zM246 761h1v1h-1zM251 761h1v1h-1zM352 761h1v1h-1zM387 761h1v1h-1zM540 761h2v1h-2zM639 761h1v1h-1zM1594 761h1v1h-1zM1618 761h1v1h-1zM247 762h1v1h-1zM251 762h1v1h-1zM352 762h1v1h-1zM387 762h1v1h-1zM542 762h1v1h-1zM639 762h1v1h-1zM248 763h3v1h-3zM353 763h1v1h-1zM385 763h2v1h-2zM543 763h1v1h-1zM639 763h1v1h-1zM250 764h1v1h-1zM354 764h4v1h-4zM366 764h6v1h-6zM383 764h2v1h-2zM544 764h2v1h-2zM585 764h2v1h-2zM638 764h1v1h-1zM358 765h8v1h-8zM372 765h2v1h-2zM381 765h2v1h-2zM546 765h1v1h-1zM582 765h3v1h-3zM587 765h1v1h-1zM602 765h1v1h-1zM638 765h1v1h-1zM374 766h3v1h-3zM379 766h2v1h-2zM547 766h1v1h-1zM580 766h2v1h-2zM588 766h1v1h-1zM601 766h1v1h-1zM603 766h1v1h-1zM637 766h1v1h-1zM377 767h2v1h-2zM548 767h1v1h-1zM576 767h4v1h-4zM588 767h1v1h-1zM600 767h1v1h-1zM604 767h1v1h-1zM637 767h1v1h-1zM549 768h1v1h-1zM572 768h4v1h-4zM589 768h1v1h-1zM599 768h1v1h-1zM605 768h1v1h-1zM637 768h1v1h-1zM550 769h1v1h-1zM562 769h10v1h-10zM590 769h1v1h-1zM598 769h1v1h-1zM606 769h1v1h-1zM636 769h1v1h-1zM550 770h1v1h-1zM560 770h2v1h-2zM591 770h1v1h-1zM598 770h1v1h-1zM606 770h1v1h-1zM636 770h1v1h-1zM551 771h1v1h-1zM558 771h2v1h-2zM592 771h1v1h-1zM597 771h1v1h-1zM607 771h1v1h-1zM622 771h6v1h-6zM635 771h1v1h-1zM552 772h1v1h-1zM557 772h1v1h-1zM592 772h1v1h-1zM596 772h1v1h-1zM608 772h1v1h-1zM616 772h6v1h-6zM628 772h2v1h-2zM635 772h1v1h-1zM553 773h1v1h-1zM555 773h2v1h-2zM593 773h1v1h-1zM595 773h1v1h-1zM609 773h1v1h-1zM612 773h4v1h-4zM630 773h3v1h-3zM634 773h1v1h-1zM554 774h1v1h-1zM594 774h1v1h-1zM610 774h2v1h-2zM633 774h2v1h-2z" fill="#1E90FF"/>
</g>
<g shape-rendering="crispEdges" fill="#000">
<rect x="1" y="1" width="1687" height="1"/>
<rect x="1" y="518" width="1687" height="1"/>
<rect x="1" y="1" width="1" height="518"/>
<rect x="1687" y="1" width="1" height="518"/>
<rect x="1" y="520" width="1687" height="1"/>
<rect x="1" y="674" width="1687" height="1"/>
<rect x="1" y="520" width="1" height="155"/>
<rect x="1687" y="520" width="1" height="155"/>
<rect x="1" y="676" width="1687" height="1"/>
<rect x="1" y="817" width="1687" height="1"/>
<rect x="1" y="676" width="1" height="142"/>
<rect x="1687" y="676" width="1" height="142"/>
</g>
<g shape-rendering="crispEdges">
<rect x="1687" y="66" width="1" height="2" fill="#FF0000"/>
<rect x="1687" y="87" width="1" height="1" fill="#778899"/>
<rect x="1687" y="150" width="1" height="2" fill="#32CD32"/>
<rect x="1687" y="212" width="1" height="2" fill="#4169E1"/>
<rect x="1687" y="296" width="1" height="2" fill="#4169E1"/>
</g>
<g shape-rendering="crispEdges" fill="#000">
<rect x="1688" y="20" width="2" height="1"/>
<rect x="1688" y="53" width="2" height="1"/>
<rect x="1688" y="86" width="2" height="1"/>
<rect x="1688" y="119" width="2" height="1"/>
<rect x="1688" y="152" width="2" height="1"/>
<rect x="1688" y="185" width="2" height="1"/>
<rect x="1688" y="218" width="2" height="1"/>
<rect x="1688" y="251" width="2" height="1"/>
<rect x="1688" y="284" width="2" height="1"/>
<rect x="1688" y="317" width="2" height="1"/>
<rect x="1688" y="350" width="2" height="1"/>
<rect x="1688" y="383" width="2" height="1"/>
<rect x="1688" y="416" width="2" height="1"/>
<rect x="1688" y="449" width="2" height="1"/>
<rect x="1688" y="482" width="2" height="1"/>
<rect x="1688" y="515" width="2" height="1"/>
</g>
<g font-family="DejaVu Sans Condensed, DejaVu Sans, sans-serif" font-stretch="condensed" font-size="9.5" >
<text x="1692.6" y="24" textLength="29" lengthAdjust="spacingAndGlyphs" fill="#000" >73.110</text>
<text x="1692.6" y="57" textLength="29" lengthAdjust="spacingAndGlyphs" fill="#000" >72.330</text>
<text x="1692.6" y="90" textLength="29" lengthAdjust="spacingAndGlyphs" fill="#000" >71.540</text>
<text x="1692.6" y="123" textLength="29" lengthAdjust="spacingAndGlyphs" fill="#000" >70.750</text>
<text x="1692.6" y="156" textLength="29" lengthAdjust="spacingAndGlyphs" fill="#000" >69.960</text>
<text x="1692.6" y="189" textLength="29" lengthAdjust="spacingAndGlyphs" fill="#000" >69.170</text>
<text x="1692.6" y="222" textLength="29" lengthAdjust="spacingAndGlyphs" fill="#000" >68.390</text>
<text x="1692.6" y="255" textLength="29" lengthAdjust="spacingAndGlyphs" fill="#000" >67.610</text>
<text x="1692.6" y="288" textLength="29" lengthAdjust="spacingAndGlyphs" fill="#000" >66.810</text>
<text x="1692.6" y="321" textLength="29" lengthAdjust="spacingAndGlyphs" fill="#000" >66.030</text>
<text x="1692.6" y="354" textLength="29" lengthAdjust="spacingAndGlyphs" fill="#000" >65.250</text>
<text x="1692.6" y="387" textLength="29" lengthAdjust="spacingAndGlyphs" fill="#000" >64.450</text>
<text x="1692.6" y="420" textLength="29" lengthAdjust="spacingAndGlyphs" fill="#000" >63.670</text>
<text x="1692.6" y="453" textLength="29" lengthAdjust="spacingAndGlyphs" fill="#000" >62.890</text>
<text x="1692.6" y="486" textLength="29" lengthAdjust="spacingAndGlyphs" fill="#000" >62.090</text>
<text x="1692.6" y="519" textLength="29" lengthAdjust="spacingAndGlyphs" fill="#000" >61.310</text>
</g>
<rect x="1689" y="61" width="33" height="11" fill="#FF0000" shape-rendering="crispEdges"/>
<g font-family="DejaVu Sans Condensed, DejaVu Sans, sans-serif" font-stretch="condensed" font-size="9.5" ><text x="1692.6" y="70" textLength="29" lengthAdjust="spacingAndGlyphs" fill="#fff" >72.000</text></g>
<rect x="1689" y="82" width="33" height="11" fill="#000000" shape-rendering="crispEdges"/>
<g font-family="DejaVu Sans Condensed, DejaVu Sans, sans-serif" font-stretch="condensed" font-size="9.5" ><text x="1692.6" y="91" textLength="29" lengthAdjust="spacingAndGlyphs" fill="#fff" >71.520</text></g>
<rect x="1689" y="145" width="33" height="11" fill="#32CD32" shape-rendering="crispEdges"/>
<g font-family="DejaVu Sans Condensed, DejaVu Sans, sans-serif" font-stretch="condensed" font-size="9.5" ><text x="1692.6" y="154" textLength="29" lengthAdjust="spacingAndGlyphs" fill="#fff" >70.000</text></g>
<rect x="1689" y="207" width="33" height="11" fill="#4169E1" shape-rendering="crispEdges"/>
<g font-family="DejaVu Sans Condensed, DejaVu Sans, sans-serif" font-stretch="condensed" font-size="9.5" ><text x="1692.6" y="216" textLength="29" lengthAdjust="spacingAndGlyphs" fill="#fff" >68.500</text></g>
<rect x="1689" y="291" width="33" height="11" fill="#4169E1" shape-rendering="crispEdges"/>
<g font-family="DejaVu Sans Condensed, DejaVu Sans, sans-serif" font-stretch="condensed" font-size="9.5" ><text x="1692.6" y="300" textLength="29" lengthAdjust="spacingAndGlyphs" fill="#fff" >66.500</text></g>
<g shape-rendering="crispEdges" fill="#000">
<rect x="1688" y="522" width="2" height="1"/>
<rect x="1688" y="593" width="2" height="1"/>
<rect x="1688" y="673" width="2" height="1"/>
<rect x="1688" y="678" width="2" height="1"/>
<rect x="1688" y="719" width="2" height="1"/>
<rect x="1688" y="775" width="2" height="1"/>
<rect x="1688" y="816" width="2" height="1"/>
</g>
<g font-family="DejaVu Sans Condensed, DejaVu Sans, sans-serif" font-stretch="condensed" font-size="9.5" >
<text x="1690.6" y="531" textLength="28.9" lengthAdjust="spacingAndGlyphs" fill="#000" >0.8254</text>
<text x="1690.6" y="597" textLength="19.3" lengthAdjust="spacingAndGlyphs" fill="#000" >0.00</text>
<text x="1690.6" y="671" textLength="33" lengthAdjust="spacingAndGlyphs" fill="#000" >-0.9234</text>
<text x="1690.6" y="687" textLength="16.5" lengthAdjust="spacingAndGlyphs" fill="#000" >100</text>
<text x="1690.6" y="723" textLength="10" lengthAdjust="spacingAndGlyphs" fill="#000" >70</text>
<text x="1690.6" y="779" textLength="10" lengthAdjust="spacingAndGlyphs" fill="#000" >30</text>
<text x="1690.6" y="814" textLength="5" lengthAdjust="spacingAndGlyphs" fill="#000" >0</text>
</g>
<g shape-rendering="crispEdges" fill="#000">
<rect x="2" y="818" width="1" height="3"/>
<rect x="66" y="818" width="1" height="3"/>
<rect x="130" y="818" width="1" height="3"/>
<rect x="194" y="818" width="1" height="3"/>
<rect x="258" y="818" width="1" height="3"/>
<rect x="322" y="818" width="1" height="3"/>
<rect x="386" y="818" width="1" height="3"/>
<rect x="450" y="818" width="1" height="3"/>
<rect x="514" y="818" width="1" height="3"/>
<rect x="578" y="818" width="1" height="3"/>
<rect x="642" y="818" width="1" height="3"/>
<rect x="706" y="818" width="1" height="3"/>
<rect x="770" y="818" width="1" height="3"/>
<rect x="834" y="818" width="1" height="3"/>
<rect x="898" y="818" width="1" height="3"/>
<rect x="962" y="818" width="1" height="3"/>
<rect x="1026" y="818" width="1" height="3"/>
<rect x="1090" y="818" width="1" height="3"/>
<rect x="1154" y="818" width="1" height="3"/>
<rect x="1218" y="818" width="1" height="3"/>
<rect x="1282" y="818" width="1" height="3"/>
<rect x="1346" y="818" width="1" height="3"/>
<rect x="1410" y="818" width="1" height="3"/>
<rect x="1474" y="818" width="1" height="3"/>
<rect x="1538" y="818" width="1" height="3"/>
<rect x="1602" y="818" width="1" height="3"/>
<rect x="1666" y="818" width="1" height="3"/>
</g>
<g font-family="DejaVu Sans Condensed, DejaVu Sans, sans-serif" font-stretch="condensed" font-size="9.5" >
<text x="0.4" y="830" textLength="52.4" lengthAdjust="spacingAndGlyphs" fill="#000" >4 May 2021</text>
<text x="64.4" y="830" textLength="54.9" lengthAdjust="spacingAndGlyphs" fill="#000" >5 May 16:00</text>
<text x="128.4" y="830" textLength="54.9" lengthAdjust="spacingAndGlyphs" fill="#000" >7 May 00:00</text>
<text x="192.4" y="830" textLength="59.9" lengthAdjust="spacingAndGlyphs" fill="#000" >10 May 04:00</text>
<text x="256.4" y="830" textLength="59.9" lengthAdjust="spacingAndGlyphs" fill="#000" >11 May 12:00</text>
<text x="320.4" y="830" textLength="59.9" lengthAdjust="spacingAndGlyphs" fill="#000" >12 May 20:00</text>
<text x="384.4" y="830" textLength="59.9" lengthAdjust="spacingAndGlyphs" fill="#000" >14 May 04:00</text>
<text x="448.4" y="830" textLength="59.9" lengthAdjust="spacingAndGlyphs" fill="#000" >17 May 08:00</text>
<text x="512.4" y="830" textLength="59.9" lengthAdjust="spacingAndGlyphs" fill="#000" >18 May 16:00</text>
<text x="576.4" y="830" textLength="59.9" lengthAdjust="spacingAndGlyphs" fill="#000" >20 May 00:00</text>
<text x="640.4" y="830" textLength="59.9" lengthAdjust="spacingAndGlyphs" fill="#000" >21 May 08:00</text>
<text x="704.4" y="830" textLength="59.9" lengthAdjust="spacingAndGlyphs" fill="#000" >24 May 12:00</text>
<text x="768.4" y="830" textLength="59.9" lengthAdjust="spacingAndGlyphs" fill="#000" >25 May 20:00</text>
<text x="832.4" y="830" textLength="59.9" lengthAdjust="spacingAndGlyphs" fill="#000" >27 May 04:00</text>
<text x="896.4" y="830" textLength="59.9" lengthAdjust="spacingAndGlyphs" fill="#000" >28 May 12:00</text>
<text x="960.4" y="830" textLength="59.9" lengthAdjust="spacingAndGlyphs" fill="#000" >31 May 16:00</text>
<text x="1024.4" y="830" textLength="50.2" lengthAdjust="spacingAndGlyphs" fill="#000" >2 Jun 00:00</text>
<text x="1088.4" y="830" textLength="50.2" lengthAdjust="spacingAndGlyphs" fill="#000" >3 Jun 08:00</text>
<text x="1152.4" y="830" textLength="50.2" lengthAdjust="spacingAndGlyphs" fill="#000" >4 Jun 16:00</text>
<text x="1216.4" y="830" textLength="50.2" lengthAdjust="spacingAndGlyphs" fill="#000" >7 Jun 20:00</text>
<text x="1280.4" y="830" textLength="50.2" lengthAdjust="spacingAndGlyphs" fill="#000" >9 Jun 04:00</text>
<text x="1344.4" y="830" textLength="55.2" lengthAdjust="spacingAndGlyphs" fill="#000" >10 Jun 12:00</text>
<text x="1408.4" y="830" textLength="55.2" lengthAdjust="spacingAndGlyphs" fill="#000" >11 Jun 20:00</text>
<text x="1472.4" y="830" textLength="55.2" lengthAdjust="spacingAndGlyphs" fill="#000" >15 Jun 00:00</text>
<text x="1536.4" y="830" textLength="55.2" lengthAdjust="spacingAndGlyphs" fill="#000" >16 Jun 08:00</text>
<text x="1600.4" y="830" textLength="55.2" lengthAdjust="spacingAndGlyphs" fill="#000" >17 Jun 16:00</text>
<text x="1664.4" y="830" textLength="55.2" lengthAdjust="spacingAndGlyphs" fill="#000" >20 Jun 23:00</text>
</g>
<path d="M5,8 L12,8 L8.5,12 Z" fill="#000"/>
<g font-family="DejaVu Sans Condensed, DejaVu Sans, sans-serif" font-stretch="condensed" font-size="9.5" >
<text x="16.4" y="13" textLength="44" lengthAdjust="spacingAndGlyphs" fill="#000" >USOil-,H4</text>
<text x="65.6" y="13" textLength="28.9" lengthAdjust="spacingAndGlyphs" fill="#000" >71.530</text>
<text x="96.8" y="13" textLength="28.9" lengthAdjust="spacingAndGlyphs" fill="#000" >71.540</text>
<text x="127.4" y="13" textLength="28.9" lengthAdjust="spacingAndGlyphs" fill="#000" >71.520</text>
<text x="158.4" y="13" textLength="28.9" lengthAdjust="spacingAndGlyphs" fill="#000" >71.520</text>
<text x="5.9" y="533" textLength="28.3" lengthAdjust="spacingAndGlyphs" fill="#000" >MACD</text>
<text x="34" y="533" textLength="38.5" lengthAdjust="spacingAndGlyphs" fill="#000" >(12,26,9)</text>
<text x="74.3" y="533" textLength="31.8" lengthAdjust="spacingAndGlyphs" fill="#000" >-0.0286</text>
<text x="108.3" y="533" textLength="31.8" lengthAdjust="spacingAndGlyphs" fill="#000" >-0.0334</text>
<text x="6.3" y="689" textLength="68.6" lengthAdjust="spacingAndGlyphs" fill="#000" >RSI(14) 53.2007</text>
</g>
<text x="1284.2 1320.6 1356.6 1392.6 1428.8 1470 1488" y="424.2" font-family="Liberation Sans, Noto Sans CJK SC, sans-serif" font-size="38" fill="#E8141E">多空转折点70</text>
<rect x="0" y="838" width="1722" height="1" fill="#E0E0E0" shape-rendering="crispEdges"/>
<rect x="0" y="840" width="4" height="1" fill="#000" shape-rendering="crispEdges"/>
<rect x="82" y="840" width="1640" height="1" fill="#000" shape-rendering="crispEdges"/>
</svg></body></html>
